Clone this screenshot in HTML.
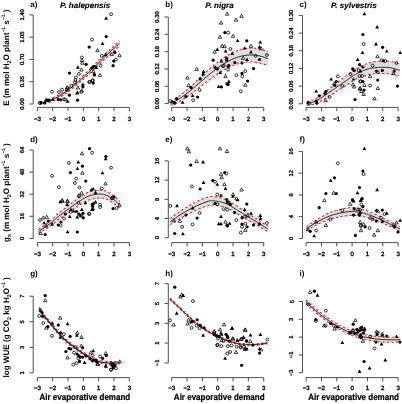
<!DOCTYPE html>
<html><head><meta charset="utf-8"><style>
html,body{margin:0;padding:0;background:#fff;width:402px;height:404px;overflow:hidden}
svg text{font-family:"Liberation Sans",sans-serif;text-rendering:geometricPrecision}
</style></head><body>
<svg width="402" height="404" viewBox="0 0 402 404" style="position:absolute;left:0;top:0;will-change:transform"><polygon points="39.50,101.71 40.86,101.55 42.22,101.33 43.57,101.06 44.93,100.73 46.29,100.36 47.65,99.93 49.00,99.46 50.36,98.94 51.72,98.38 53.08,97.77 54.43,97.12 55.79,96.43 57.15,95.69 58.51,94.91 59.86,94.10 61.22,93.25 62.58,92.37 63.94,91.45 65.29,90.49 66.65,89.50 68.01,88.48 69.37,87.43 70.73,86.36 72.08,85.26 73.44,84.14 74.80,82.99 76.16,81.82 77.51,80.63 78.87,79.42 80.23,78.19 81.59,76.95 82.94,75.69 84.30,74.42 85.66,73.15 87.02,71.86 88.37,70.57 89.73,69.27 91.09,67.96 92.45,66.64 93.81,65.32 95.16,64.00 96.52,62.67 97.88,61.35 99.24,60.02 100.59,58.70 101.95,57.38 103.31,56.05 104.67,54.72 106.02,53.40 107.38,52.08 108.74,50.78 110.10,49.48 111.45,48.21 112.81,46.95 114.17,45.71 115.53,44.48 116.88,43.27 118.24,42.08 119.60,40.90 119.60,46.10 118.24,47.22 116.88,48.35 115.53,49.51 114.17,50.68 112.81,51.87 111.45,53.07 110.10,54.29 108.74,55.51 107.38,56.74 106.02,57.99 104.67,59.24 103.31,60.50 101.95,61.77 100.59,63.06 99.24,64.35 97.88,65.65 96.52,66.94 95.16,68.24 93.81,69.53 92.45,70.82 91.09,72.11 89.73,73.39 88.37,74.66 87.02,75.93 85.66,77.18 84.30,78.42 82.94,79.65 81.59,80.85 80.23,82.04 78.87,83.21 77.51,84.37 76.16,85.51 74.80,86.62 73.44,87.72 72.08,88.79 70.73,89.84 69.37,90.87 68.01,91.86 66.65,92.83 65.29,93.77 63.94,94.68 62.58,95.56 61.22,96.42 59.86,97.23 58.51,98.02 57.15,98.76 55.79,99.47 54.43,100.13 53.08,100.76 51.72,101.35 50.36,101.89 49.00,102.39 47.65,102.85 46.29,103.25 44.93,103.61 43.57,103.91 42.22,104.17 40.86,104.37 39.50,104.51" fill="#dedede" stroke="none"/><polyline points="39.50,101.71 40.86,101.55 42.22,101.33 43.57,101.06 44.93,100.73 46.29,100.36 47.65,99.93 49.00,99.46 50.36,98.94 51.72,98.38 53.08,97.77 54.43,97.12 55.79,96.43 57.15,95.69 58.51,94.91 59.86,94.10 61.22,93.25 62.58,92.37 63.94,91.45 65.29,90.49 66.65,89.50 68.01,88.48 69.37,87.43 70.73,86.36 72.08,85.26 73.44,84.14 74.80,82.99 76.16,81.82 77.51,80.63 78.87,79.42 80.23,78.19 81.59,76.95 82.94,75.69 84.30,74.42 85.66,73.15 87.02,71.86 88.37,70.57 89.73,69.27 91.09,67.96 92.45,66.64 93.81,65.32 95.16,64.00 96.52,62.67 97.88,61.35 99.24,60.02 100.59,58.70 101.95,57.38 103.31,56.05 104.67,54.72 106.02,53.40 107.38,52.08 108.74,50.78 110.10,49.48 111.45,48.21 112.81,46.95 114.17,45.71 115.53,44.48 116.88,43.27 118.24,42.08 119.60,40.90" fill="none" stroke="#f01e1e" stroke-width="1.1" stroke-dasharray="2.3,2.3"/><polyline points="39.50,104.51 40.86,104.37 42.22,104.17 43.57,103.91 44.93,103.61 46.29,103.25 47.65,102.85 49.00,102.39 50.36,101.89 51.72,101.35 53.08,100.76 54.43,100.13 55.79,99.47 57.15,98.76 58.51,98.02 59.86,97.23 61.22,96.42 62.58,95.56 63.94,94.68 65.29,93.77 66.65,92.83 68.01,91.86 69.37,90.87 70.73,89.84 72.08,88.79 73.44,87.72 74.80,86.62 76.16,85.51 77.51,84.37 78.87,83.21 80.23,82.04 81.59,80.85 82.94,79.65 84.30,78.42 85.66,77.18 87.02,75.93 88.37,74.66 89.73,73.39 91.09,72.11 92.45,70.82 93.81,69.53 95.16,68.24 96.52,66.94 97.88,65.65 99.24,64.35 100.59,63.06 101.95,61.77 103.31,60.50 104.67,59.24 106.02,57.99 107.38,56.74 108.74,55.51 110.10,54.29 111.45,53.07 112.81,51.87 114.17,50.68 115.53,49.51 116.88,48.35 118.24,47.22 119.60,46.10" fill="none" stroke="#f01e1e" stroke-width="1.1" stroke-dasharray="2.3,2.3"/><polyline points="39.50,103.11 40.86,102.96 42.22,102.75 43.57,102.48 44.93,102.17 46.29,101.80 47.65,101.39 49.00,100.93 50.36,100.42 51.72,99.87 53.08,99.27 54.43,98.63 55.79,97.95 57.15,97.22 58.51,96.46 59.86,95.67 61.22,94.83 62.58,93.97 63.94,93.06 65.29,92.13 66.65,91.17 68.01,90.17 69.37,89.15 70.73,88.10 72.08,87.03 73.44,85.93 74.80,84.81 76.16,83.66 77.51,82.50 78.87,81.32 80.23,80.12 81.59,78.90 82.94,77.67 84.30,76.42 85.66,75.16 87.02,73.89 88.37,72.62 89.73,71.33 91.09,70.03 92.45,68.73 93.81,67.43 95.16,66.12 96.52,64.81 97.88,63.50 99.24,62.19 100.59,60.88 101.95,59.57 103.31,58.27 104.67,56.98 106.02,55.69 107.38,54.41 108.74,53.14 110.10,51.89 111.45,50.64 112.81,49.41 114.17,48.19 115.53,46.99 116.88,45.81 118.24,44.65 119.60,43.50" fill="none" stroke="#1c1c1c" stroke-width="0.95"/><circle cx="111.1" cy="14.2" r="1.45" fill="none" stroke="#000" stroke-width="0.8"/><polygon points="106.1,16.3 108.0,19.8 104.2,19.8" fill="#000"/><circle cx="106.2" cy="36.6" r="1.6" fill="#000"/><circle cx="92.0" cy="39.6" r="1.45" fill="none" stroke="#000" stroke-width="0.8"/><polygon points="102.5,41.4 104.4,44.9 100.6,44.9" fill="#000"/><circle cx="89.2" cy="47.1" r="1.6" fill="#000"/><polygon points="97.5,48.6 99.2,51.7 95.8,51.7" fill="none" stroke="#000" stroke-width="0.75"/><circle cx="101.7" cy="55.8" r="1.45" fill="none" stroke="#000" stroke-width="0.8"/><polygon points="105.6,52.7 107.5,56.1 103.7,56.1" fill="#000"/><circle cx="114.8" cy="52.4" r="1.6" fill="#000"/><polygon points="111.8,52.5 113.5,55.6 110.0,55.6" fill="none" stroke="#000" stroke-width="0.75"/><polygon points="119.5,53.7 121.2,56.8 117.8,56.8" fill="none" stroke="#000" stroke-width="0.75"/><circle cx="115.9" cy="59.6" r="1.45" fill="none" stroke="#000" stroke-width="0.8"/><circle cx="113.7" cy="61.1" r="1.6" fill="#000"/><circle cx="113.1" cy="65.7" r="1.6" fill="#000"/><circle cx="100.7" cy="65.7" r="1.45" fill="none" stroke="#000" stroke-width="0.8"/><polygon points="99.9,73.3 101.7,76.4 98.2,76.4" fill="none" stroke="#000" stroke-width="0.75"/><circle cx="93.7" cy="66.5" r="1.6" fill="#000"/><polygon points="96.2,65.6 98.1,69.0 94.3,69.0" fill="#000"/><circle cx="94.4" cy="74.7" r="1.6" fill="#000"/><circle cx="92.5" cy="80.9" r="1.45" fill="none" stroke="#000" stroke-width="0.8"/><circle cx="89.2" cy="82.1" r="1.45" fill="none" stroke="#000" stroke-width="0.8"/><circle cx="93.2" cy="83.1" r="1.6" fill="#000"/><circle cx="81.9" cy="57.5" r="1.45" fill="none" stroke="#000" stroke-width="0.8"/><polygon points="82.0,58.4 83.8,61.5 80.2,61.5" fill="none" stroke="#000" stroke-width="0.75"/><polygon points="82.2,61.1 84.0,64.2 80.5,64.2" fill="none" stroke="#000" stroke-width="0.75"/><circle cx="86.1" cy="64.4" r="1.6" fill="#000"/><polygon points="77.9,65.3 79.8,68.8 76.0,68.8" fill="#000"/><polygon points="81.4,68.0 83.2,71.1 79.7,71.1" fill="none" stroke="#000" stroke-width="0.75"/><circle cx="78.9" cy="73.9" r="1.45" fill="none" stroke="#000" stroke-width="0.8"/><circle cx="69.5" cy="73.1" r="1.6" fill="#000"/><circle cx="91.8" cy="67.9" r="1.6" fill="#000"/><circle cx="94.8" cy="66.9" r="1.6" fill="#000"/><polygon points="93.3,69.5 95.0,72.6 91.5,72.6" fill="none" stroke="#000" stroke-width="0.75"/><circle cx="94.3" cy="74.9" r="1.6" fill="#000"/><circle cx="89.9" cy="81.8" r="1.45" fill="none" stroke="#000" stroke-width="0.8"/><circle cx="92.8" cy="80.3" r="1.45" fill="none" stroke="#000" stroke-width="0.8"/><circle cx="82.9" cy="84.8" r="1.6" fill="#000"/><circle cx="82.9" cy="86.8" r="1.6" fill="#000"/><circle cx="75.9" cy="77.4" r="1.45" fill="none" stroke="#000" stroke-width="0.8"/><circle cx="75.4" cy="79.9" r="1.45" fill="none" stroke="#000" stroke-width="0.8"/><circle cx="74.9" cy="82.3" r="1.45" fill="none" stroke="#000" stroke-width="0.8"/><polygon points="67.5,85.9 69.2,89.0 65.8,89.0" fill="none" stroke="#000" stroke-width="0.75"/><polygon points="77.9,85.9 79.7,89.0 76.2,89.0" fill="none" stroke="#000" stroke-width="0.75"/><circle cx="39.6" cy="103.0" r="1.45" fill="none" stroke="#000" stroke-width="0.8"/><circle cx="41.0" cy="102.6" r="1.6" fill="#000"/><circle cx="44.6" cy="103.0" r="1.6" fill="#000"/><circle cx="47.1" cy="100.2" r="1.6" fill="#000"/><circle cx="48.9" cy="100.2" r="1.6" fill="#000"/><polygon points="52.7,97.4 54.6,100.8 50.8,100.8" fill="#000"/><circle cx="52.0" cy="91.7" r="1.45" fill="none" stroke="#000" stroke-width="0.8"/><circle cx="58.3" cy="99.5" r="1.6" fill="#000"/><circle cx="60.7" cy="99.8" r="1.6" fill="#000"/><circle cx="63.9" cy="99.3" r="1.45" fill="none" stroke="#000" stroke-width="0.8"/><polygon points="67.6,99.3 69.5,102.8 65.7,102.8" fill="#000"/><circle cx="77.5" cy="100.2" r="1.6" fill="#000"/><circle cx="58.9" cy="92.1" r="1.45" fill="none" stroke="#000" stroke-width="0.8"/><circle cx="62.0" cy="89.6" r="1.45" fill="none" stroke="#000" stroke-width="0.8"/><polygon points="67.0,88.1 68.9,91.5 65.1,91.5" fill="#000"/><polygon points="67.0,85.8 68.8,88.9 65.2,88.9" fill="none" stroke="#000" stroke-width="0.75"/><circle cx="69.4" cy="95.2" r="1.6" fill="#000"/><circle cx="71.3" cy="85.9" r="1.45" fill="none" stroke="#000" stroke-width="0.8"/><polygon points="76.9,91.2 78.8,94.6 75.0,94.6" fill="#000"/><circle cx="81.3" cy="92.1" r="1.45" fill="none" stroke="#000" stroke-width="0.8"/><polygon points="46.4,98.1 48.1,101.2 44.6,101.2" fill="none" stroke="#000" stroke-width="0.75"/><circle cx="65.1" cy="99.5" r="1.45" fill="none" stroke="#000" stroke-width="0.8"/><polygon points="81.8,88.7 83.5,91.8 80.0,91.8" fill="none" stroke="#000" stroke-width="0.75"/><polygon points="77.5,90.5 79.4,93.9 75.6,93.9" fill="#000"/><line x1="33.2" y1="104.0" x2="33.2" y2="14.900000000000006" stroke="#3a3a3a" stroke-width="0.9"/><line x1="29.400000000000002" y1="104.00" x2="33.2" y2="104.00" stroke="#3a3a3a" stroke-width="0.9"/><text x="24.20" y="104.00" transform="rotate(-90 24.20 104.00)" text-anchor="middle" font-size="5.8" fill="#111" stroke="#111" stroke-width="0.35">0.00</text><line x1="29.400000000000002" y1="81.72" x2="33.2" y2="81.72" stroke="#3a3a3a" stroke-width="0.9"/><text x="24.20" y="81.72" transform="rotate(-90 24.20 81.72)" text-anchor="middle" font-size="5.8" fill="#111" stroke="#111" stroke-width="0.35">0.35</text><line x1="29.400000000000002" y1="59.45" x2="33.2" y2="59.45" stroke="#3a3a3a" stroke-width="0.9"/><text x="24.20" y="59.45" transform="rotate(-90 24.20 59.45)" text-anchor="middle" font-size="5.8" fill="#111" stroke="#111" stroke-width="0.35">0.70</text><line x1="29.400000000000002" y1="37.17" x2="33.2" y2="37.17" stroke="#3a3a3a" stroke-width="0.9"/><text x="24.20" y="37.17" transform="rotate(-90 24.20 37.17)" text-anchor="middle" font-size="5.8" fill="#111" stroke="#111" stroke-width="0.35">1.05</text><line x1="29.400000000000002" y1="14.90" x2="33.2" y2="14.90" stroke="#3a3a3a" stroke-width="0.9"/><text x="24.20" y="14.90" transform="rotate(-90 24.20 14.90)" text-anchor="middle" font-size="5.8" fill="#111" stroke="#111" stroke-width="0.35">1.40</text><line x1="37.35999999999999" y1="107.4" x2="129.34" y2="107.4" stroke="#3a3a3a" stroke-width="0.9"/><line x1="37.36" y1="107.4" x2="37.36" y2="111.2" stroke="#3a3a3a" stroke-width="0.9"/><text x="37.36" y="121.00" text-anchor="middle" font-size="6.1" fill="#111" stroke="#111" stroke-width="0.4">−3</text><line x1="52.69" y1="107.4" x2="52.69" y2="111.2" stroke="#3a3a3a" stroke-width="0.9"/><text x="52.69" y="121.00" text-anchor="middle" font-size="6.1" fill="#111" stroke="#111" stroke-width="0.4">−2</text><line x1="68.02" y1="107.4" x2="68.02" y2="111.2" stroke="#3a3a3a" stroke-width="0.9"/><text x="68.02" y="121.00" text-anchor="middle" font-size="6.1" fill="#111" stroke="#111" stroke-width="0.4">−1</text><line x1="83.35" y1="107.4" x2="83.35" y2="111.2" stroke="#3a3a3a" stroke-width="0.9"/><text x="83.35" y="121.00" text-anchor="middle" font-size="6.1" fill="#111" stroke="#111" stroke-width="0.4">0</text><line x1="98.68" y1="107.4" x2="98.68" y2="111.2" stroke="#3a3a3a" stroke-width="0.9"/><text x="98.68" y="121.00" text-anchor="middle" font-size="6.1" fill="#111" stroke="#111" stroke-width="0.4">1</text><line x1="114.01" y1="107.4" x2="114.01" y2="111.2" stroke="#3a3a3a" stroke-width="0.9"/><text x="114.01" y="121.00" text-anchor="middle" font-size="6.1" fill="#111" stroke="#111" stroke-width="0.4">2</text><line x1="129.34" y1="107.4" x2="129.34" y2="111.2" stroke="#3a3a3a" stroke-width="0.9"/><text x="129.34" y="121.00" text-anchor="middle" font-size="6.1" fill="#111" stroke="#111" stroke-width="0.4">3</text><text x="30.20" y="7.20" font-size="8" font-weight="bold" fill="#000">a)</text><text x="85.15" y="7.6" text-anchor="middle" font-size="8" font-weight="bold" font-style="italic" fill="#000" stroke="#000" stroke-width="0.15">P. halepensis</text><polygon points="170.50,101.24 172.15,100.44 173.80,99.55 175.45,98.57 177.10,97.51 178.75,96.37 180.41,95.17 182.06,93.91 183.71,92.59 185.36,91.21 187.01,89.77 188.66,88.31 190.31,86.81 191.96,85.31 193.61,83.78 195.26,82.24 196.91,80.68 198.56,79.12 200.22,77.55 201.87,75.99 203.52,74.42 205.17,72.87 206.82,71.33 208.47,69.81 210.12,68.31 211.77,66.91 213.42,65.54 215.07,64.20 216.72,62.89 218.37,61.63 220.03,60.40 221.68,59.22 223.33,58.08 224.98,57.00 226.63,55.96 228.28,54.98 229.93,54.05 231.58,53.18 233.23,52.37 234.88,51.62 236.53,50.92 238.18,50.29 239.84,49.72 241.49,49.27 243.14,48.89 244.79,48.58 246.44,48.34 248.09,48.17 249.74,48.07 251.39,48.04 253.04,48.07 254.69,48.19 256.34,48.39 257.99,48.66 259.65,49.00 261.30,49.41 262.95,49.89 264.60,50.43 266.25,51.04 267.90,51.71 267.90,65.71 266.25,65.04 264.60,64.43 262.95,63.89 261.30,63.41 259.65,63.00 257.99,62.66 256.34,62.39 254.69,62.19 253.04,62.05 251.39,61.96 249.74,61.95 248.09,62.00 246.44,62.13 244.79,62.32 243.14,62.58 241.49,62.91 239.84,63.30 238.18,63.71 236.53,64.18 234.88,64.71 233.23,65.32 231.58,65.99 229.93,66.72 228.28,67.51 226.63,68.35 224.98,69.25 223.33,70.19 221.68,71.19 220.03,72.24 218.37,73.32 216.72,74.45 215.07,75.62 213.42,76.83 211.77,78.06 210.12,79.32 208.47,80.54 206.82,81.78 205.17,83.03 203.52,84.30 201.87,85.58 200.22,86.87 198.56,88.16 196.91,89.44 195.26,90.72 193.61,91.99 191.96,93.24 190.31,94.46 188.66,95.64 187.01,96.78 185.36,97.88 183.71,98.94 182.06,99.96 180.41,100.93 178.75,101.84 177.10,102.68 175.45,103.45 173.80,104.13 172.15,104.73 170.50,105.24" fill="#dedede" stroke="none"/><polyline points="170.50,101.24 172.15,100.44 173.80,99.55 175.45,98.57 177.10,97.51 178.75,96.37 180.41,95.17 182.06,93.91 183.71,92.59 185.36,91.21 187.01,89.77 188.66,88.31 190.31,86.81 191.96,85.31 193.61,83.78 195.26,82.24 196.91,80.68 198.56,79.12 200.22,77.55 201.87,75.99 203.52,74.42 205.17,72.87 206.82,71.33 208.47,69.81 210.12,68.31 211.77,66.91 213.42,65.54 215.07,64.20 216.72,62.89 218.37,61.63 220.03,60.40 221.68,59.22 223.33,58.08 224.98,57.00 226.63,55.96 228.28,54.98 229.93,54.05 231.58,53.18 233.23,52.37 234.88,51.62 236.53,50.92 238.18,50.29 239.84,49.72 241.49,49.27 243.14,48.89 244.79,48.58 246.44,48.34 248.09,48.17 249.74,48.07 251.39,48.04 253.04,48.07 254.69,48.19 256.34,48.39 257.99,48.66 259.65,49.00 261.30,49.41 262.95,49.89 264.60,50.43 266.25,51.04 267.90,51.71" fill="none" stroke="#f01e1e" stroke-width="1.1" stroke-dasharray="2.3,2.3"/><polyline points="170.50,105.24 172.15,104.73 173.80,104.13 175.45,103.45 177.10,102.68 178.75,101.84 180.41,100.93 182.06,99.96 183.71,98.94 185.36,97.88 187.01,96.78 188.66,95.64 190.31,94.46 191.96,93.24 193.61,91.99 195.26,90.72 196.91,89.44 198.56,88.16 200.22,86.87 201.87,85.58 203.52,84.30 205.17,83.03 206.82,81.78 208.47,80.54 210.12,79.32 211.77,78.06 213.42,76.83 215.07,75.62 216.72,74.45 218.37,73.32 220.03,72.24 221.68,71.19 223.33,70.19 224.98,69.25 226.63,68.35 228.28,67.51 229.93,66.72 231.58,65.99 233.23,65.32 234.88,64.71 236.53,64.18 238.18,63.71 239.84,63.30 241.49,62.91 243.14,62.58 244.79,62.32 246.44,62.13 248.09,62.00 249.74,61.95 251.39,61.96 253.04,62.05 254.69,62.19 256.34,62.39 257.99,62.66 259.65,63.00 261.30,63.41 262.95,63.89 264.60,64.43 266.25,65.04 267.90,65.71" fill="none" stroke="#f01e1e" stroke-width="1.1" stroke-dasharray="2.3,2.3"/><polyline points="170.50,103.24 172.15,102.59 173.80,101.84 175.45,101.01 177.10,100.09 178.75,99.11 180.41,98.05 182.06,96.94 183.71,95.76 185.36,94.54 187.01,93.28 188.66,91.97 190.31,90.63 191.96,89.27 193.61,87.88 195.26,86.48 196.91,85.06 198.56,83.64 200.22,82.21 201.87,80.78 203.52,79.36 205.17,77.95 206.82,76.56 208.47,75.18 210.12,73.82 211.77,72.49 213.42,71.18 215.07,69.91 216.72,68.67 218.37,67.48 220.03,66.32 221.68,65.20 223.33,64.14 224.98,63.12 226.63,62.15 228.28,61.24 229.93,60.38 231.58,59.59 233.23,58.85 234.88,58.17 236.53,57.55 238.18,57.00 239.84,56.51 241.49,56.09 243.14,55.74 244.79,55.45 246.44,55.23 248.09,55.09 249.74,55.01 251.39,55.00 253.04,55.06 254.69,55.19 256.34,55.39 257.99,55.66 259.65,56.00 261.30,56.41 262.95,56.89 264.60,57.43 266.25,58.04 267.90,58.71" fill="none" stroke="#1c1c1c" stroke-width="0.95"/><polygon points="227.1,12.1 228.8,15.2 225.3,15.2" fill="none" stroke="#000" stroke-width="0.75"/><polygon points="241.6,14.3 243.3,17.4 239.8,17.4" fill="none" stroke="#000" stroke-width="0.75"/><polygon points="236.1,18.0 237.8,21.1 234.3,21.1" fill="none" stroke="#000" stroke-width="0.75"/><polygon points="221.1,21.0 222.8,24.1 219.3,24.1" fill="none" stroke="#000" stroke-width="0.75"/><circle cx="224.9" cy="32.6" r="1.6" fill="#000"/><circle cx="228.1" cy="32.6" r="1.45" fill="none" stroke="#000" stroke-width="0.8"/><polygon points="233.1,34.2 234.8,37.3 231.3,37.3" fill="none" stroke="#000" stroke-width="0.75"/><polygon points="219.9,35.2 221.7,38.3 218.2,38.3" fill="none" stroke="#000" stroke-width="0.75"/><polygon points="237.6,38.7 239.5,42.1 235.7,42.1" fill="#000"/><circle cx="246.8" cy="40.8" r="1.6" fill="#000"/><polygon points="260.2,40.2 262.1,43.6 258.3,43.6" fill="#000"/><polygon points="222.2,44.2 223.9,47.3 220.4,47.3" fill="none" stroke="#000" stroke-width="0.75"/><polygon points="224.4,44.6 226.2,47.7 222.7,47.7" fill="none" stroke="#000" stroke-width="0.75"/><polygon points="217.3,47.4 219.2,50.9 215.4,50.9" fill="#000"/><polygon points="214.7,50.1 216.4,53.2 212.9,53.2" fill="none" stroke="#000" stroke-width="0.75"/><circle cx="230.4" cy="49.0" r="1.45" fill="none" stroke="#000" stroke-width="0.8"/><polygon points="225.6,49.2 227.5,52.6 223.7,52.6" fill="#000"/><polygon points="232.2,51.4 234.1,54.9 230.3,54.9" fill="#000"/><polygon points="244.6,46.2 246.5,49.6 242.7,49.6" fill="#000"/><polygon points="251.0,44.2 252.8,47.3 249.2,47.3" fill="none" stroke="#000" stroke-width="0.75"/><polygon points="259.5,45.0 261.4,48.5 257.6,48.5" fill="#000"/><polygon points="261.0,46.7 262.8,49.8 259.2,49.8" fill="none" stroke="#000" stroke-width="0.75"/><polygon points="251.0,49.9 252.9,53.4 249.1,53.4" fill="#000"/><circle cx="213.2" cy="60.2" r="1.6" fill="#000"/><polygon points="221.4,58.9 223.3,62.4 219.5,62.4" fill="#000"/><circle cx="226.7" cy="58.0" r="1.6" fill="#000"/><circle cx="226.7" cy="60.2" r="1.6" fill="#000"/><polygon points="243.1,56.3 244.8,59.4 241.3,59.4" fill="none" stroke="#000" stroke-width="0.75"/><polygon points="247.0,57.5 248.9,61.0 245.1,61.0" fill="#000"/><circle cx="259.5" cy="59.5" r="1.6" fill="#000"/><circle cx="255.5" cy="55.8" r="1.45" fill="none" stroke="#000" stroke-width="0.8"/><circle cx="267.0" cy="55.0" r="1.45" fill="none" stroke="#000" stroke-width="0.8"/><circle cx="234.9" cy="62.5" r="1.6" fill="#000"/><circle cx="242.0" cy="63.0" r="1.6" fill="#000"/><circle cx="223.7" cy="65.5" r="1.45" fill="none" stroke="#000" stroke-width="0.8"/><circle cx="228.9" cy="65.5" r="1.6" fill="#000"/><circle cx="222.9" cy="66.2" r="1.45" fill="none" stroke="#000" stroke-width="0.8"/><circle cx="215.0" cy="67.4" r="1.6" fill="#000"/><circle cx="217.3" cy="68.9" r="1.6" fill="#000"/><polygon points="220.2,70.5 222.1,73.9 218.3,73.9" fill="#000"/><polygon points="196.7,67.3 198.4,70.4 194.9,70.4" fill="none" stroke="#000" stroke-width="0.75"/><polygon points="203.5,69.5 205.4,72.9 201.6,72.9" fill="#000"/><circle cx="203.1" cy="74.6" r="1.6" fill="#000"/><polygon points="187.4,76.0 189.2,79.1 185.7,79.1" fill="none" stroke="#000" stroke-width="0.75"/><circle cx="200.1" cy="78.9" r="1.6" fill="#000"/><polygon points="188.6,83.4 190.3,86.5 186.8,86.5" fill="none" stroke="#000" stroke-width="0.75"/><circle cx="191.1" cy="87.6" r="1.6" fill="#000"/><circle cx="199.6" cy="90.1" r="1.45" fill="none" stroke="#000" stroke-width="0.8"/><polygon points="218.7,84.7 220.6,88.1 216.8,88.1" fill="#000"/><circle cx="221.4" cy="86.8" r="1.6" fill="#000"/><polygon points="225.5,74.5 227.2,77.6 223.8,77.6" fill="none" stroke="#000" stroke-width="0.75"/><circle cx="227.0" cy="83.8" r="1.6" fill="#000"/><circle cx="185.9" cy="96.5" r="1.6" fill="#000"/><polygon points="192.6,93.7 194.5,97.1 190.7,97.1" fill="#000"/><circle cx="197.6" cy="97.0" r="1.6" fill="#000"/><circle cx="193.1" cy="100.2" r="1.45" fill="none" stroke="#000" stroke-width="0.8"/><polygon points="182.6,100.4 184.5,103.8 180.7,103.8" fill="#000"/><circle cx="176.7" cy="98.7" r="1.6" fill="#000"/><circle cx="174.7" cy="103.2" r="1.6" fill="#000"/><circle cx="170.2" cy="101.0" r="1.45" fill="none" stroke="#000" stroke-width="0.8"/><circle cx="172.5" cy="102.0" r="1.6" fill="#000"/><circle cx="253.5" cy="68.6" r="1.6" fill="#000"/><circle cx="245.3" cy="71.1" r="1.45" fill="none" stroke="#000" stroke-width="0.8"/><circle cx="242.0" cy="73.4" r="1.6" fill="#000"/><circle cx="236.4" cy="75.2" r="1.45" fill="none" stroke="#000" stroke-width="0.8"/><circle cx="242.3" cy="76.4" r="1.45" fill="none" stroke="#000" stroke-width="0.8"/><polygon points="228.9,79.5 230.8,82.9 227.0,82.9" fill="#000"/><circle cx="228.1" cy="84.6" r="1.6" fill="#000"/><circle cx="247.6" cy="81.1" r="1.6" fill="#000"/><polygon points="245.3,83.1 247.1,86.2 243.6,86.2" fill="none" stroke="#000" stroke-width="0.75"/><circle cx="240.8" cy="91.3" r="1.45" fill="none" stroke="#000" stroke-width="0.8"/><circle cx="228.1" cy="69.6" r="1.45" fill="none" stroke="#000" stroke-width="0.8"/><circle cx="228.1" cy="66.2" r="1.6" fill="#000"/><line x1="168.3" y1="103.6" x2="168.3" y2="16.999999999999986" stroke="#3a3a3a" stroke-width="0.9"/><line x1="164.5" y1="103.60" x2="168.3" y2="103.60" stroke="#3a3a3a" stroke-width="0.9"/><text x="159.30" y="103.60" transform="rotate(-90 159.30 103.60)" text-anchor="middle" font-size="5.8" fill="#111" stroke="#111" stroke-width="0.35">0.00</text><line x1="164.5" y1="86.28" x2="168.3" y2="86.28" stroke="#3a3a3a" stroke-width="0.9"/><text x="159.30" y="86.28" transform="rotate(-90 159.30 86.28)" text-anchor="middle" font-size="5.8" fill="#111" stroke="#111" stroke-width="0.35">0.06</text><line x1="164.5" y1="68.96" x2="168.3" y2="68.96" stroke="#3a3a3a" stroke-width="0.9"/><text x="159.30" y="68.96" transform="rotate(-90 159.30 68.96)" text-anchor="middle" font-size="5.8" fill="#111" stroke="#111" stroke-width="0.35">0.12</text><line x1="164.5" y1="51.64" x2="168.3" y2="51.64" stroke="#3a3a3a" stroke-width="0.9"/><text x="159.30" y="51.64" transform="rotate(-90 159.30 51.64)" text-anchor="middle" font-size="5.8" fill="#111" stroke="#111" stroke-width="0.35">0.18</text><line x1="164.5" y1="34.32" x2="168.3" y2="34.32" stroke="#3a3a3a" stroke-width="0.9"/><text x="159.30" y="34.32" transform="rotate(-90 159.30 34.32)" text-anchor="middle" font-size="5.8" fill="#111" stroke="#111" stroke-width="0.35">0.24</text><line x1="164.5" y1="17.00" x2="168.3" y2="17.00" stroke="#3a3a3a" stroke-width="0.9"/><text x="159.30" y="17.00" transform="rotate(-90 159.30 17.00)" text-anchor="middle" font-size="5.8" fill="#111" stroke="#111" stroke-width="0.35">0.30</text><line x1="171.70999999999998" y1="107.4" x2="263.69" y2="107.4" stroke="#3a3a3a" stroke-width="0.9"/><line x1="171.71" y1="107.4" x2="171.71" y2="111.2" stroke="#3a3a3a" stroke-width="0.9"/><text x="171.71" y="121.00" text-anchor="middle" font-size="6.1" fill="#111" stroke="#111" stroke-width="0.4">−3</text><line x1="187.04" y1="107.4" x2="187.04" y2="111.2" stroke="#3a3a3a" stroke-width="0.9"/><text x="187.04" y="121.00" text-anchor="middle" font-size="6.1" fill="#111" stroke="#111" stroke-width="0.4">−2</text><line x1="202.37" y1="107.4" x2="202.37" y2="111.2" stroke="#3a3a3a" stroke-width="0.9"/><text x="202.37" y="121.00" text-anchor="middle" font-size="6.1" fill="#111" stroke="#111" stroke-width="0.4">−1</text><line x1="217.70" y1="107.4" x2="217.70" y2="111.2" stroke="#3a3a3a" stroke-width="0.9"/><text x="217.70" y="121.00" text-anchor="middle" font-size="6.1" fill="#111" stroke="#111" stroke-width="0.4">0</text><line x1="233.03" y1="107.4" x2="233.03" y2="111.2" stroke="#3a3a3a" stroke-width="0.9"/><text x="233.03" y="121.00" text-anchor="middle" font-size="6.1" fill="#111" stroke="#111" stroke-width="0.4">1</text><line x1="248.36" y1="107.4" x2="248.36" y2="111.2" stroke="#3a3a3a" stroke-width="0.9"/><text x="248.36" y="121.00" text-anchor="middle" font-size="6.1" fill="#111" stroke="#111" stroke-width="0.4">2</text><line x1="263.69" y1="107.4" x2="263.69" y2="111.2" stroke="#3a3a3a" stroke-width="0.9"/><text x="263.69" y="121.00" text-anchor="middle" font-size="6.1" fill="#111" stroke="#111" stroke-width="0.4">3</text><text x="165.30" y="7.20" font-size="8" font-weight="bold" fill="#000">b)</text><text x="219.50" y="7.6" text-anchor="middle" font-size="8" font-weight="bold" font-style="italic" fill="#000" stroke="#000" stroke-width="0.15">P. nigra</text><polygon points="307.00,101.60 307.73,101.36 308.44,101.17 309.14,100.99 309.82,100.83 310.50,100.67 311.19,100.49 311.90,100.29 312.64,100.06 313.41,99.77 314.22,99.43 315.08,99.01 316.00,98.50 316.99,97.89 318.03,97.20 319.13,96.44 320.27,95.62 321.44,94.74 322.64,93.83 323.85,92.90 325.08,91.94 326.30,90.98 327.52,90.03 328.72,89.10 329.90,88.20 331.06,87.34 332.23,86.46 333.39,85.58 334.56,84.69 335.73,83.80 336.89,82.91 338.06,82.01 339.23,81.12 340.40,80.23 341.57,79.34 342.73,78.47 343.90,77.60 345.07,76.75 346.23,75.89 347.40,75.01 348.57,74.14 349.73,73.26 350.90,72.40 352.07,71.55 353.23,70.73 354.40,69.94 355.57,69.18 356.73,68.46 357.90,67.80 359.06,67.16 360.21,66.55 361.35,65.97 362.49,65.43 363.63,64.91 364.77,64.42 365.92,63.96 367.09,63.53 368.26,63.13 369.45,62.76 370.66,62.41 371.90,62.10 373.18,61.86 374.50,61.66 375.86,61.49 377.24,61.36 378.63,61.25 380.03,61.17 381.42,61.11 382.80,61.08 384.14,61.08 385.45,61.10 386.70,61.14 387.90,61.20 389.04,61.30 390.12,61.43 391.16,61.61 392.17,61.81 393.15,62.04 394.11,62.28 395.05,62.54 395.99,62.80 396.92,63.07 397.86,63.33 398.82,63.57 399.80,63.80 399.80,76.80 398.82,76.54 397.86,76.26 396.92,75.97 395.99,75.68 395.05,75.38 394.11,75.09 393.15,74.81 392.17,74.55 391.16,74.32 390.12,74.11 389.04,73.93 387.90,73.80 386.70,73.69 385.45,73.61 384.14,73.54 382.80,73.49 381.42,73.47 380.03,73.47 378.63,73.50 377.24,73.56 375.86,73.64 374.50,73.76 373.18,73.91 371.90,74.10 370.66,74.27 369.45,74.48 368.26,74.71 367.09,74.98 365.92,75.28 364.77,75.61 363.63,75.96 362.49,76.35 361.35,76.77 360.21,77.22 359.06,77.69 357.90,78.20 356.73,78.76 355.57,79.38 354.40,80.04 353.23,80.73 352.07,81.45 350.90,82.20 349.73,82.96 348.57,83.74 347.40,84.51 346.23,85.29 345.07,86.05 343.90,86.80 342.73,87.52 341.57,88.24 340.40,88.98 339.23,89.72 338.06,90.46 336.89,91.21 335.73,91.95 334.56,92.69 333.39,93.43 332.23,94.16 331.06,94.89 329.90,95.60 328.72,96.30 327.52,97.02 326.30,97.76 325.08,98.51 323.85,99.25 322.64,99.98 321.44,100.68 320.27,101.35 319.13,101.98 318.03,102.55 316.99,103.06 316.00,103.50 315.08,103.86 314.22,104.15 313.41,104.37 312.64,104.53 311.90,104.66 311.19,104.74 310.50,104.81 309.82,104.87 309.14,104.92 308.44,104.99 307.73,105.08 307.00,105.20" fill="#dedede" stroke="none"/><polyline points="307.00,101.60 307.73,101.36 308.44,101.17 309.14,100.99 309.82,100.83 310.50,100.67 311.19,100.49 311.90,100.29 312.64,100.06 313.41,99.77 314.22,99.43 315.08,99.01 316.00,98.50 316.99,97.89 318.03,97.20 319.13,96.44 320.27,95.62 321.44,94.74 322.64,93.83 323.85,92.90 325.08,91.94 326.30,90.98 327.52,90.03 328.72,89.10 329.90,88.20 331.06,87.34 332.23,86.46 333.39,85.58 334.56,84.69 335.73,83.80 336.89,82.91 338.06,82.01 339.23,81.12 340.40,80.23 341.57,79.34 342.73,78.47 343.90,77.60 345.07,76.75 346.23,75.89 347.40,75.01 348.57,74.14 349.73,73.26 350.90,72.40 352.07,71.55 353.23,70.73 354.40,69.94 355.57,69.18 356.73,68.46 357.90,67.80 359.06,67.16 360.21,66.55 361.35,65.97 362.49,65.43 363.63,64.91 364.77,64.42 365.92,63.96 367.09,63.53 368.26,63.13 369.45,62.76 370.66,62.41 371.90,62.10 373.18,61.86 374.50,61.66 375.86,61.49 377.24,61.36 378.63,61.25 380.03,61.17 381.42,61.11 382.80,61.08 384.14,61.08 385.45,61.10 386.70,61.14 387.90,61.20 389.04,61.30 390.12,61.43 391.16,61.61 392.17,61.81 393.15,62.04 394.11,62.28 395.05,62.54 395.99,62.80 396.92,63.07 397.86,63.33 398.82,63.57 399.80,63.80" fill="none" stroke="#f01e1e" stroke-width="1.1" stroke-dasharray="2.3,2.3"/><polyline points="307.00,105.20 307.73,105.08 308.44,104.99 309.14,104.92 309.82,104.87 310.50,104.81 311.19,104.74 311.90,104.66 312.64,104.53 313.41,104.37 314.22,104.15 315.08,103.86 316.00,103.50 316.99,103.06 318.03,102.55 319.13,101.98 320.27,101.35 321.44,100.68 322.64,99.98 323.85,99.25 325.08,98.51 326.30,97.76 327.52,97.02 328.72,96.30 329.90,95.60 331.06,94.89 332.23,94.16 333.39,93.43 334.56,92.69 335.73,91.95 336.89,91.21 338.06,90.46 339.23,89.72 340.40,88.98 341.57,88.24 342.73,87.52 343.90,86.80 345.07,86.05 346.23,85.29 347.40,84.51 348.57,83.74 349.73,82.96 350.90,82.20 352.07,81.45 353.23,80.73 354.40,80.04 355.57,79.38 356.73,78.76 357.90,78.20 359.06,77.69 360.21,77.22 361.35,76.77 362.49,76.35 363.63,75.96 364.77,75.61 365.92,75.28 367.09,74.98 368.26,74.71 369.45,74.48 370.66,74.27 371.90,74.10 373.18,73.91 374.50,73.76 375.86,73.64 377.24,73.56 378.63,73.50 380.03,73.47 381.42,73.47 382.80,73.49 384.14,73.54 385.45,73.61 386.70,73.69 387.90,73.80 389.04,73.93 390.12,74.11 391.16,74.32 392.17,74.55 393.15,74.81 394.11,75.09 395.05,75.38 395.99,75.68 396.92,75.97 397.86,76.26 398.82,76.54 399.80,76.80" fill="none" stroke="#f01e1e" stroke-width="1.1" stroke-dasharray="2.3,2.3"/><polyline points="307.00,103.40 307.73,103.22 308.44,103.08 309.14,102.96 309.82,102.85 310.50,102.74 311.19,102.62 311.90,102.47 312.64,102.30 313.41,102.07 314.22,101.79 315.08,101.43 316.00,101.00 316.99,100.48 318.03,99.88 319.13,99.21 320.27,98.49 321.44,97.71 322.64,96.91 323.85,96.07 325.08,95.23 326.30,94.37 327.52,93.53 328.72,92.70 329.90,91.90 331.06,91.11 332.23,90.31 333.39,89.51 334.56,88.69 335.73,87.88 336.89,87.06 338.06,86.24 339.23,85.42 340.40,84.60 341.57,83.79 342.73,82.99 343.90,82.20 345.07,81.40 346.23,80.59 347.40,79.76 348.57,78.94 349.73,78.11 350.90,77.30 352.07,76.50 353.23,75.73 354.40,74.99 355.57,74.28 356.73,73.61 357.90,73.00 359.06,72.43 360.21,71.88 361.35,71.37 362.49,70.89 363.63,70.44 364.77,70.01 365.92,69.62 367.09,69.26 368.26,68.92 369.45,68.62 370.66,68.34 371.90,68.10 373.18,67.89 374.50,67.71 375.86,67.57 377.24,67.46 378.63,67.37 380.03,67.32 381.42,67.29 382.80,67.29 384.14,67.31 385.45,67.35 386.70,67.42 387.90,67.50 389.04,67.61 390.12,67.77 391.16,67.96 392.17,68.18 393.15,68.43 394.11,68.69 395.05,68.96 395.99,69.24 396.92,69.52 397.86,69.79 398.82,70.06 399.80,70.30" fill="none" stroke="#1c1c1c" stroke-width="0.95"/><polygon points="364.4,11.9 366.3,15.3 362.5,15.3" fill="#000"/><polygon points="377.1,25.0 379.0,28.5 375.2,28.5" fill="#000"/><circle cx="362.9" cy="34.6" r="1.6" fill="#000"/><circle cx="363.6" cy="44.1" r="1.45" fill="none" stroke="#000" stroke-width="0.8"/><polygon points="376.0,42.0 377.9,45.5 374.1,45.5" fill="#000"/><circle cx="382.6" cy="47.3" r="1.6" fill="#000"/><polygon points="386.8,49.2 388.7,52.6 384.9,52.6" fill="#000"/><polygon points="400.2,50.7 402.1,54.1 398.3,54.1" fill="#000"/><polygon points="362.6,50.7 364.5,54.1 360.7,54.1" fill="#000"/><polygon points="377.5,54.6 379.2,57.7 375.8,57.7" fill="none" stroke="#000" stroke-width="0.75"/><polygon points="357.7,57.4 359.6,60.9 355.8,60.9" fill="#000"/><circle cx="381.6" cy="60.2" r="1.45" fill="none" stroke="#000" stroke-width="0.8"/><circle cx="385.3" cy="61.0" r="1.45" fill="none" stroke="#000" stroke-width="0.8"/><circle cx="383.5" cy="60.8" r="1.6" fill="#000"/><circle cx="396.5" cy="63.0" r="1.45" fill="none" stroke="#000" stroke-width="0.8"/><circle cx="359.6" cy="64.7" r="1.6" fill="#000"/><circle cx="362.9" cy="67.0" r="1.6" fill="#000"/><circle cx="372.6" cy="65.5" r="1.45" fill="none" stroke="#000" stroke-width="0.8"/><circle cx="352.7" cy="68.9" r="1.6" fill="#000"/><circle cx="354.2" cy="70.4" r="1.6" fill="#000"/><circle cx="358.7" cy="70.4" r="1.45" fill="none" stroke="#000" stroke-width="0.8"/><polygon points="360.5,69.0 362.4,72.4 358.6,72.4" fill="#000"/><circle cx="359.5" cy="76.0" r="1.45" fill="none" stroke="#000" stroke-width="0.8"/><circle cx="360.2" cy="81.6" r="1.45" fill="none" stroke="#000" stroke-width="0.8"/><polygon points="360.2,86.4 361.9,89.5 358.4,89.5" fill="none" stroke="#000" stroke-width="0.75"/><circle cx="350.5" cy="74.1" r="1.45" fill="none" stroke="#000" stroke-width="0.8"/><polygon points="353.5,77.2 355.4,80.6 351.6,80.6" fill="#000"/><polygon points="353.0,82.7 354.8,85.8 351.2,85.8" fill="none" stroke="#000" stroke-width="0.75"/><polygon points="354.2,84.9 355.9,88.0 352.4,88.0" fill="none" stroke="#000" stroke-width="0.75"/><circle cx="355.0" cy="99.5" r="1.6" fill="#000"/><circle cx="337.8" cy="76.4" r="1.45" fill="none" stroke="#000" stroke-width="0.8"/><polygon points="331.1,77.2 333.0,80.6 329.2,80.6" fill="#000"/><circle cx="336.3" cy="81.6" r="1.6" fill="#000"/><polygon points="334.1,81.9 335.9,85.0 332.4,85.0" fill="none" stroke="#000" stroke-width="0.75"/><circle cx="334.8" cy="85.3" r="1.6" fill="#000"/><circle cx="342.3" cy="86.1" r="1.45" fill="none" stroke="#000" stroke-width="0.8"/><polygon points="316.2,89.2 318.1,92.6 314.3,92.6" fill="#000"/><circle cx="325.9" cy="91.3" r="1.6" fill="#000"/><circle cx="325.1" cy="93.5" r="1.6" fill="#000"/><circle cx="319.2" cy="95.8" r="1.6" fill="#000"/><circle cx="329.6" cy="97.0" r="1.45" fill="none" stroke="#000" stroke-width="0.8"/><polygon points="325.6,98.6 327.4,101.7 323.9,101.7" fill="none" stroke="#000" stroke-width="0.75"/><circle cx="316.2" cy="101.0" r="1.6" fill="#000"/><circle cx="316.9" cy="103.2" r="1.6" fill="#000"/><circle cx="308.0" cy="102.9" r="1.6" fill="#000"/><circle cx="309.5" cy="103.5" r="1.45" fill="none" stroke="#000" stroke-width="0.8"/><circle cx="376.3" cy="71.1" r="1.6" fill="#000"/><circle cx="377.8" cy="72.2" r="1.45" fill="none" stroke="#000" stroke-width="0.8"/><circle cx="382.3" cy="70.4" r="1.6" fill="#000"/><circle cx="394.2" cy="71.1" r="1.6" fill="#000"/><polygon points="393.5,71.5 395.2,74.6 391.8,74.6" fill="none" stroke="#000" stroke-width="0.75"/><circle cx="362.1" cy="76.0" r="1.45" fill="none" stroke="#000" stroke-width="0.8"/><polygon points="370.1,74.5 371.9,77.6 368.4,77.6" fill="none" stroke="#000" stroke-width="0.75"/><circle cx="360.7" cy="81.1" r="1.45" fill="none" stroke="#000" stroke-width="0.8"/><circle cx="362.9" cy="81.6" r="1.6" fill="#000"/><circle cx="377.8" cy="80.1" r="1.6" fill="#000"/><circle cx="397.5" cy="86.1" r="1.6" fill="#000"/><polygon points="364.4,83.4 366.1,86.5 362.6,86.5" fill="none" stroke="#000" stroke-width="0.75"/><circle cx="370.1" cy="85.6" r="1.45" fill="none" stroke="#000" stroke-width="0.8"/><polygon points="377.8,86.4 379.6,89.5 376.1,89.5" fill="none" stroke="#000" stroke-width="0.75"/><polygon points="359.9,87.1 361.6,90.2 358.1,90.2" fill="none" stroke="#000" stroke-width="0.75"/><polygon points="361.4,89.4 363.1,92.5 359.6,92.5" fill="none" stroke="#000" stroke-width="0.75"/><circle cx="364.1" cy="90.1" r="1.6" fill="#000"/><polygon points="363.6,92.4 365.4,95.5 361.9,95.5" fill="none" stroke="#000" stroke-width="0.75"/><polygon points="374.5,96.8 376.2,99.9 372.8,99.9" fill="none" stroke="#000" stroke-width="0.75"/><line x1="302.5" y1="103.8" x2="302.5" y2="15.399999999999991" stroke="#3a3a3a" stroke-width="0.9"/><line x1="298.7" y1="103.80" x2="302.5" y2="103.80" stroke="#3a3a3a" stroke-width="0.9"/><text x="293.50" y="103.80" transform="rotate(-90 293.50 103.80)" text-anchor="middle" font-size="5.8" fill="#111" stroke="#111" stroke-width="0.35">0.00</text><line x1="298.7" y1="86.12" x2="302.5" y2="86.12" stroke="#3a3a3a" stroke-width="0.9"/><text x="293.50" y="86.12" transform="rotate(-90 293.50 86.12)" text-anchor="middle" font-size="5.8" fill="#111" stroke="#111" stroke-width="0.35">0.06</text><line x1="298.7" y1="68.44" x2="302.5" y2="68.44" stroke="#3a3a3a" stroke-width="0.9"/><text x="293.50" y="68.44" transform="rotate(-90 293.50 68.44)" text-anchor="middle" font-size="5.8" fill="#111" stroke="#111" stroke-width="0.35">0.12</text><line x1="298.7" y1="50.76" x2="302.5" y2="50.76" stroke="#3a3a3a" stroke-width="0.9"/><text x="293.50" y="50.76" transform="rotate(-90 293.50 50.76)" text-anchor="middle" font-size="5.8" fill="#111" stroke="#111" stroke-width="0.35">0.18</text><line x1="298.7" y1="33.08" x2="302.5" y2="33.08" stroke="#3a3a3a" stroke-width="0.9"/><text x="293.50" y="33.08" transform="rotate(-90 293.50 33.08)" text-anchor="middle" font-size="5.8" fill="#111" stroke="#111" stroke-width="0.35">0.24</text><line x1="298.7" y1="15.40" x2="302.5" y2="15.40" stroke="#3a3a3a" stroke-width="0.9"/><text x="293.50" y="15.40" transform="rotate(-90 293.50 15.40)" text-anchor="middle" font-size="5.8" fill="#111" stroke="#111" stroke-width="0.35">0.30</text><line x1="306.11" y1="107.4" x2="398.09000000000003" y2="107.4" stroke="#3a3a3a" stroke-width="0.9"/><line x1="306.11" y1="107.4" x2="306.11" y2="111.2" stroke="#3a3a3a" stroke-width="0.9"/><text x="306.11" y="121.00" text-anchor="middle" font-size="6.1" fill="#111" stroke="#111" stroke-width="0.4">−3</text><line x1="321.44" y1="107.4" x2="321.44" y2="111.2" stroke="#3a3a3a" stroke-width="0.9"/><text x="321.44" y="121.00" text-anchor="middle" font-size="6.1" fill="#111" stroke="#111" stroke-width="0.4">−2</text><line x1="336.77" y1="107.4" x2="336.77" y2="111.2" stroke="#3a3a3a" stroke-width="0.9"/><text x="336.77" y="121.00" text-anchor="middle" font-size="6.1" fill="#111" stroke="#111" stroke-width="0.4">−1</text><line x1="352.10" y1="107.4" x2="352.10" y2="111.2" stroke="#3a3a3a" stroke-width="0.9"/><text x="352.10" y="121.00" text-anchor="middle" font-size="6.1" fill="#111" stroke="#111" stroke-width="0.4">0</text><line x1="367.43" y1="107.4" x2="367.43" y2="111.2" stroke="#3a3a3a" stroke-width="0.9"/><text x="367.43" y="121.00" text-anchor="middle" font-size="6.1" fill="#111" stroke="#111" stroke-width="0.4">1</text><line x1="382.76" y1="107.4" x2="382.76" y2="111.2" stroke="#3a3a3a" stroke-width="0.9"/><text x="382.76" y="121.00" text-anchor="middle" font-size="6.1" fill="#111" stroke="#111" stroke-width="0.4">2</text><line x1="398.09" y1="107.4" x2="398.09" y2="111.2" stroke="#3a3a3a" stroke-width="0.9"/><text x="398.09" y="121.00" text-anchor="middle" font-size="6.1" fill="#111" stroke="#111" stroke-width="0.4">3</text><text x="299.50" y="7.20" font-size="8" font-weight="bold" fill="#000">c)</text><text x="353.90" y="7.6" text-anchor="middle" font-size="8" font-weight="bold" font-style="italic" fill="#000" stroke="#000" stroke-width="0.15">P. sylvestris</text><polygon points="38.50,229.50 39.64,228.65 40.82,227.79 42.02,226.90 43.24,226.01 44.45,225.12 45.66,224.24 46.83,223.37 47.97,222.53 49.06,221.71 50.09,220.93 51.04,220.19 51.90,219.50 52.64,218.88 53.25,218.34 53.76,217.86 54.19,217.42 54.56,217.01 54.92,216.62 55.28,216.22 55.66,215.81 56.10,215.35 56.62,214.84 57.24,214.26 58.00,213.60 58.88,212.88 59.86,212.09 60.92,211.25 62.05,210.36 63.23,209.44 64.46,208.50 65.71,207.53 66.97,206.57 68.24,205.62 69.49,204.68 70.71,203.77 71.90,202.90 73.07,202.04 74.27,201.16 75.47,200.28 76.69,199.39 77.90,198.50 79.11,197.64 80.31,196.80 81.49,195.99 82.64,195.23 83.77,194.52 84.86,193.88 85.90,193.30 86.91,192.82 87.89,192.40 88.84,192.04 89.77,191.72 90.68,191.45 91.56,191.21 92.41,191.01 93.25,190.83 94.07,190.68 94.86,190.54 95.64,190.42 96.40,190.30 97.13,190.20 97.83,190.11 98.50,190.06 99.14,190.02 99.76,190.01 100.37,190.02 100.96,190.05 101.55,190.10 102.13,190.17 102.71,190.26 103.30,190.37 103.90,190.50 104.49,190.66 105.07,190.83 105.64,191.02 106.19,191.23 106.75,191.46 107.30,191.71 107.86,191.98 108.43,192.28 109.01,192.61 109.62,192.98 110.24,193.37 110.90,193.80 111.58,194.29 112.30,194.82 113.03,195.41 113.78,196.02 114.54,196.67 115.32,197.34 116.10,198.02 116.89,198.71 117.68,199.40 118.46,200.08 119.23,200.75 120.00,201.40 120.00,208.20 119.23,207.62 118.46,207.02 117.68,206.41 116.89,205.78 116.10,205.16 115.32,204.55 114.54,203.95 113.78,203.37 113.03,202.82 112.30,202.30 111.58,201.83 110.90,201.40 110.24,201.01 109.62,200.65 109.01,200.32 108.43,200.03 107.86,199.76 107.30,199.52 106.75,199.30 106.19,199.10 105.64,198.93 105.07,198.77 104.49,198.63 103.90,198.50 103.30,198.37 102.71,198.26 102.13,198.17 101.55,198.10 100.96,198.05 100.37,198.02 99.76,198.01 99.14,198.02 98.50,198.06 97.83,198.11 97.13,198.20 96.40,198.30 95.64,198.42 94.86,198.54 94.07,198.68 93.25,198.83 92.41,199.01 91.56,199.21 90.68,199.45 89.77,199.72 88.84,200.04 87.89,200.40 86.91,200.82 85.90,201.30 84.86,201.82 83.77,202.40 82.64,203.05 81.49,203.74 80.31,204.48 79.11,205.25 77.90,206.05 76.69,206.86 75.47,207.68 74.27,208.50 73.07,209.31 71.90,210.10 70.71,210.90 69.49,211.74 68.24,212.60 66.97,213.49 65.71,214.38 64.46,215.27 63.23,216.14 62.05,217.00 60.92,217.82 59.86,218.60 58.88,219.33 58.00,220.00 57.24,220.56 56.62,221.06 56.10,221.50 55.66,221.90 55.28,222.27 54.92,222.62 54.56,222.96 54.19,223.32 53.76,223.70 53.25,224.11 52.64,224.58 51.90,225.10 51.04,225.69 50.09,226.31 49.06,226.97 47.97,227.66 46.83,228.37 45.66,229.10 44.45,229.83 43.24,230.58 42.02,231.32 40.82,232.06 39.64,232.79 38.50,233.50" fill="#dedede" stroke="none"/><polyline points="38.50,229.50 39.64,228.65 40.82,227.79 42.02,226.90 43.24,226.01 44.45,225.12 45.66,224.24 46.83,223.37 47.97,222.53 49.06,221.71 50.09,220.93 51.04,220.19 51.90,219.50 52.64,218.88 53.25,218.34 53.76,217.86 54.19,217.42 54.56,217.01 54.92,216.62 55.28,216.22 55.66,215.81 56.10,215.35 56.62,214.84 57.24,214.26 58.00,213.60 58.88,212.88 59.86,212.09 60.92,211.25 62.05,210.36 63.23,209.44 64.46,208.50 65.71,207.53 66.97,206.57 68.24,205.62 69.49,204.68 70.71,203.77 71.90,202.90 73.07,202.04 74.27,201.16 75.47,200.28 76.69,199.39 77.90,198.50 79.11,197.64 80.31,196.80 81.49,195.99 82.64,195.23 83.77,194.52 84.86,193.88 85.90,193.30 86.91,192.82 87.89,192.40 88.84,192.04 89.77,191.72 90.68,191.45 91.56,191.21 92.41,191.01 93.25,190.83 94.07,190.68 94.86,190.54 95.64,190.42 96.40,190.30 97.13,190.20 97.83,190.11 98.50,190.06 99.14,190.02 99.76,190.01 100.37,190.02 100.96,190.05 101.55,190.10 102.13,190.17 102.71,190.26 103.30,190.37 103.90,190.50 104.49,190.66 105.07,190.83 105.64,191.02 106.19,191.23 106.75,191.46 107.30,191.71 107.86,191.98 108.43,192.28 109.01,192.61 109.62,192.98 110.24,193.37 110.90,193.80 111.58,194.29 112.30,194.82 113.03,195.41 113.78,196.02 114.54,196.67 115.32,197.34 116.10,198.02 116.89,198.71 117.68,199.40 118.46,200.08 119.23,200.75 120.00,201.40" fill="none" stroke="#f01e1e" stroke-width="1.1" stroke-dasharray="2.3,2.3"/><polyline points="38.50,233.50 39.64,232.79 40.82,232.06 42.02,231.32 43.24,230.58 44.45,229.83 45.66,229.10 46.83,228.37 47.97,227.66 49.06,226.97 50.09,226.31 51.04,225.69 51.90,225.10 52.64,224.58 53.25,224.11 53.76,223.70 54.19,223.32 54.56,222.96 54.92,222.62 55.28,222.27 55.66,221.90 56.10,221.50 56.62,221.06 57.24,220.56 58.00,220.00 58.88,219.33 59.86,218.60 60.92,217.82 62.05,217.00 63.23,216.14 64.46,215.27 65.71,214.38 66.97,213.49 68.24,212.60 69.49,211.74 70.71,210.90 71.90,210.10 73.07,209.31 74.27,208.50 75.47,207.68 76.69,206.86 77.90,206.05 79.11,205.25 80.31,204.48 81.49,203.74 82.64,203.05 83.77,202.40 84.86,201.82 85.90,201.30 86.91,200.82 87.89,200.40 88.84,200.04 89.77,199.72 90.68,199.45 91.56,199.21 92.41,199.01 93.25,198.83 94.07,198.68 94.86,198.54 95.64,198.42 96.40,198.30 97.13,198.20 97.83,198.11 98.50,198.06 99.14,198.02 99.76,198.01 100.37,198.02 100.96,198.05 101.55,198.10 102.13,198.17 102.71,198.26 103.30,198.37 103.90,198.50 104.49,198.63 105.07,198.77 105.64,198.93 106.19,199.10 106.75,199.30 107.30,199.52 107.86,199.76 108.43,200.03 109.01,200.32 109.62,200.65 110.24,201.01 110.90,201.40 111.58,201.83 112.30,202.30 113.03,202.82 113.78,203.37 114.54,203.95 115.32,204.55 116.10,205.16 116.89,205.78 117.68,206.41 118.46,207.02 119.23,207.62 120.00,208.20" fill="none" stroke="#f01e1e" stroke-width="1.1" stroke-dasharray="2.3,2.3"/><polyline points="38.50,231.50 39.64,230.72 40.82,229.92 42.02,229.11 43.24,228.30 44.45,227.48 45.66,226.67 46.83,225.87 47.97,225.09 49.06,224.34 50.09,223.62 51.04,222.94 51.90,222.30 52.64,221.73 53.25,221.22 53.76,220.78 54.19,220.37 54.56,219.99 54.92,219.62 55.28,219.24 55.66,218.85 56.10,218.43 56.62,217.95 57.24,217.41 58.00,216.80 58.88,216.11 59.86,215.35 60.92,214.54 62.05,213.68 63.23,212.79 64.46,211.88 65.71,210.96 66.97,210.03 68.24,209.11 69.49,208.21 70.71,207.34 71.90,206.50 73.07,205.68 74.27,204.83 75.47,203.98 76.69,203.12 77.90,202.27 79.11,201.44 80.31,200.64 81.49,199.87 82.64,199.14 83.77,198.46 84.86,197.85 85.90,197.30 86.91,196.82 87.89,196.40 88.84,196.04 89.77,195.72 90.68,195.45 91.56,195.21 92.41,195.01 93.25,194.83 94.07,194.68 94.86,194.54 95.64,194.42 96.40,194.30 97.13,194.20 97.83,194.11 98.50,194.06 99.14,194.02 99.76,194.01 100.37,194.02 100.96,194.05 101.55,194.10 102.13,194.17 102.71,194.26 103.30,194.37 103.90,194.50 104.49,194.64 105.07,194.80 105.64,194.97 106.19,195.17 106.75,195.38 107.30,195.61 107.86,195.87 108.43,196.16 109.01,196.47 109.62,196.81 110.24,197.19 110.90,197.60 111.58,198.06 112.30,198.56 113.03,199.11 113.78,199.70 114.54,200.31 115.32,200.94 116.10,201.59 116.89,202.25 117.68,202.90 118.46,203.55 119.23,204.19 120.00,204.80" fill="none" stroke="#1c1c1c" stroke-width="0.95"/><circle cx="89.5" cy="148.7" r="1.6" fill="#000"/><circle cx="92.1" cy="152.7" r="1.45" fill="none" stroke="#000" stroke-width="0.8"/><polygon points="82.1,151.7 83.8,154.8 80.3,154.8" fill="none" stroke="#000" stroke-width="0.75"/><circle cx="105.9" cy="156.5" r="1.6" fill="#000"/><polygon points="105.7,156.7 107.6,160.2 103.8,160.2" fill="#000"/><circle cx="68.9" cy="162.9" r="1.45" fill="none" stroke="#000" stroke-width="0.8"/><polygon points="78.3,160.0 80.2,163.4 76.4,163.4" fill="#000"/><circle cx="82.4" cy="166.2" r="1.6" fill="#000"/><polygon points="77.4,166.5 79.3,169.9 75.5,169.9" fill="#000"/><circle cx="70.4" cy="172.6" r="1.6" fill="#000"/><polygon points="82.4,171.1 84.2,174.2 80.7,174.2" fill="none" stroke="#000" stroke-width="0.75"/><polygon points="102.5,170.9 104.4,174.3 100.6,174.3" fill="#000"/><circle cx="111.0" cy="167.7" r="1.45" fill="none" stroke="#000" stroke-width="0.8"/><circle cx="76.1" cy="178.6" r="1.45" fill="none" stroke="#000" stroke-width="0.8"/><circle cx="85.8" cy="181.1" r="1.6" fill="#000"/><circle cx="74.9" cy="183.0" r="1.45" fill="none" stroke="#000" stroke-width="0.8"/><circle cx="58.9" cy="187.1" r="1.45" fill="none" stroke="#000" stroke-width="0.8"/><circle cx="79.4" cy="187.5" r="1.45" fill="none" stroke="#000" stroke-width="0.8"/><polygon points="105.5,181.9 107.2,185.0 103.8,185.0" fill="none" stroke="#000" stroke-width="0.75"/><polygon points="81.6,191.1 83.3,194.2 79.8,194.2" fill="none" stroke="#000" stroke-width="0.75"/><polygon points="93.1,186.9 95.0,190.3 91.2,190.3" fill="#000"/><polygon points="91.3,187.9 93.2,191.3 89.4,191.3" fill="#000"/><circle cx="101.8" cy="188.6" r="1.45" fill="none" stroke="#000" stroke-width="0.8"/><polygon points="95.5,190.6 97.4,194.0 93.6,194.0" fill="#000"/><circle cx="79.4" cy="195.7" r="1.45" fill="none" stroke="#000" stroke-width="0.8"/><polygon points="62.2,198.3 64.0,201.4 60.5,201.4" fill="none" stroke="#000" stroke-width="0.75"/><polygon points="67.4,199.1 69.2,202.2 65.7,202.2" fill="none" stroke="#000" stroke-width="0.75"/><polygon points="112.2,196.1 114.0,199.2 110.5,199.2" fill="none" stroke="#000" stroke-width="0.75"/><polygon points="60.2,199.7 62.1,203.2 58.3,203.2" fill="#000"/><polygon points="62.4,199.5 64.2,202.6 60.6,202.6" fill="none" stroke="#000" stroke-width="0.75"/><circle cx="76.5" cy="211.5" r="1.6" fill="#000"/><polygon points="80.5,213.4 82.4,216.8 78.6,216.8" fill="#000"/><polygon points="67.6,199.8 69.3,202.9 65.8,202.9" fill="none" stroke="#000" stroke-width="0.75"/><polygon points="67.1,202.6 69.0,206.0 65.2,206.0" fill="#000"/><circle cx="78.5" cy="202.9" r="1.45" fill="none" stroke="#000" stroke-width="0.8"/><polygon points="85.5,200.8 87.4,204.2 83.6,204.2" fill="#000"/><circle cx="92.2" cy="204.4" r="1.6" fill="#000"/><circle cx="93.0" cy="209.6" r="1.6" fill="#000"/><polygon points="71.0,207.5 72.9,210.9 69.1,210.9" fill="#000"/><circle cx="65.3" cy="214.1" r="1.6" fill="#000"/><circle cx="70.6" cy="211.9" r="1.45" fill="none" stroke="#000" stroke-width="0.8"/><polygon points="73.6,209.0 75.5,212.4 71.7,212.4" fill="#000"/><circle cx="78.8" cy="214.1" r="1.6" fill="#000"/><polygon points="81.8,207.5 83.7,210.9 79.9,210.9" fill="#000"/><circle cx="83.0" cy="213.3" r="1.6" fill="#000"/><polygon points="69.8,214.5 71.7,217.9 67.9,217.9" fill="#000"/><circle cx="64.1" cy="218.6" r="1.45" fill="none" stroke="#000" stroke-width="0.8"/><polygon points="77.3,215.0 79.2,218.4 75.4,218.4" fill="#000"/><circle cx="81.5" cy="216.0" r="1.45" fill="none" stroke="#000" stroke-width="0.8"/><circle cx="83.3" cy="217.8" r="1.6" fill="#000"/><circle cx="89.5" cy="214.1" r="1.45" fill="none" stroke="#000" stroke-width="0.8"/><circle cx="40.0" cy="220.0" r="1.45" fill="none" stroke="#000" stroke-width="0.8"/><polygon points="43.3,215.9 45.0,219.0 41.5,219.0" fill="none" stroke="#000" stroke-width="0.75"/><polygon points="46.7,215.2 48.5,218.3 45.0,218.3" fill="none" stroke="#000" stroke-width="0.75"/><polygon points="44.1,220.9 46.0,224.3 42.2,224.3" fill="#000"/><circle cx="48.2" cy="221.1" r="1.6" fill="#000"/><polygon points="52.2,222.0 54.1,225.4 50.3,225.4" fill="#000"/><circle cx="58.2" cy="225.0" r="1.6" fill="#000"/><circle cx="60.9" cy="222.0" r="1.6" fill="#000"/><circle cx="60.6" cy="225.3" r="1.45" fill="none" stroke="#000" stroke-width="0.8"/><polygon points="45.9,224.1 47.6,227.2 44.1,227.2" fill="none" stroke="#000" stroke-width="0.75"/><polygon points="40.7,231.6 42.5,234.7 39.0,234.7" fill="none" stroke="#000" stroke-width="0.75"/><circle cx="45.2" cy="234.5" r="1.6" fill="#000"/><polygon points="67.6,229.9 69.5,233.3 65.7,233.3" fill="#000"/><circle cx="77.3" cy="232.0" r="1.6" fill="#000"/><circle cx="114.0" cy="196.9" r="1.6" fill="#000"/><circle cx="112.1" cy="198.1" r="1.45" fill="none" stroke="#000" stroke-width="0.8"/><polygon points="119.5,203.2 121.2,206.3 117.8,206.3" fill="none" stroke="#000" stroke-width="0.75"/><circle cx="116.5" cy="208.1" r="1.45" fill="none" stroke="#000" stroke-width="0.8"/><circle cx="113.1" cy="208.6" r="1.6" fill="#000"/><polygon points="93.4,201.5 95.3,204.9 91.5,204.9" fill="#000"/><polygon points="95.6,200.0 97.5,203.4 93.7,203.4" fill="#000"/><circle cx="92.7" cy="206.6" r="1.6" fill="#000"/><polygon points="91.9,207.5 93.8,210.9 90.0,210.9" fill="#000"/><circle cx="100.1" cy="204.7" r="1.45" fill="none" stroke="#000" stroke-width="0.8"/><circle cx="100.1" cy="207.1" r="1.45" fill="none" stroke="#000" stroke-width="0.8"/><circle cx="88.9" cy="213.6" r="1.45" fill="none" stroke="#000" stroke-width="0.8"/><circle cx="78.8" cy="196.2" r="1.45" fill="none" stroke="#000" stroke-width="0.8"/><circle cx="52.1" cy="175.8" r="1.45" fill="none" stroke="#000" stroke-width="0.8"/><line x1="33.2" y1="238.4" x2="33.2" y2="150.0" stroke="#3a3a3a" stroke-width="0.9"/><line x1="29.400000000000002" y1="238.40" x2="33.2" y2="238.40" stroke="#3a3a3a" stroke-width="0.9"/><text x="24.20" y="238.40" transform="rotate(-90 24.20 238.40)" text-anchor="middle" font-size="5.8" fill="#111" stroke="#111" stroke-width="0.35">0</text><line x1="29.400000000000002" y1="216.30" x2="33.2" y2="216.30" stroke="#3a3a3a" stroke-width="0.9"/><text x="24.20" y="216.30" transform="rotate(-90 24.20 216.30)" text-anchor="middle" font-size="5.8" fill="#111" stroke="#111" stroke-width="0.35">16</text><line x1="29.400000000000002" y1="194.20" x2="33.2" y2="194.20" stroke="#3a3a3a" stroke-width="0.9"/><text x="24.20" y="194.20" transform="rotate(-90 24.20 194.20)" text-anchor="middle" font-size="5.8" fill="#111" stroke="#111" stroke-width="0.35">32</text><line x1="29.400000000000002" y1="172.10" x2="33.2" y2="172.10" stroke="#3a3a3a" stroke-width="0.9"/><text x="24.20" y="172.10" transform="rotate(-90 24.20 172.10)" text-anchor="middle" font-size="5.8" fill="#111" stroke="#111" stroke-width="0.35">48</text><line x1="29.400000000000002" y1="150.00" x2="33.2" y2="150.00" stroke="#3a3a3a" stroke-width="0.9"/><text x="24.20" y="150.00" transform="rotate(-90 24.20 150.00)" text-anchor="middle" font-size="5.8" fill="#111" stroke="#111" stroke-width="0.35">64</text><line x1="37.35999999999999" y1="242.6" x2="129.34" y2="242.6" stroke="#3a3a3a" stroke-width="0.9"/><line x1="37.36" y1="242.6" x2="37.36" y2="246.4" stroke="#3a3a3a" stroke-width="0.9"/><text x="37.36" y="255.70" text-anchor="middle" font-size="6.1" fill="#111" stroke="#111" stroke-width="0.4">−3</text><line x1="52.69" y1="242.6" x2="52.69" y2="246.4" stroke="#3a3a3a" stroke-width="0.9"/><text x="52.69" y="255.70" text-anchor="middle" font-size="6.1" fill="#111" stroke="#111" stroke-width="0.4">−2</text><line x1="68.02" y1="242.6" x2="68.02" y2="246.4" stroke="#3a3a3a" stroke-width="0.9"/><text x="68.02" y="255.70" text-anchor="middle" font-size="6.1" fill="#111" stroke="#111" stroke-width="0.4">−1</text><line x1="83.35" y1="242.6" x2="83.35" y2="246.4" stroke="#3a3a3a" stroke-width="0.9"/><text x="83.35" y="255.70" text-anchor="middle" font-size="6.1" fill="#111" stroke="#111" stroke-width="0.4">0</text><line x1="98.68" y1="242.6" x2="98.68" y2="246.4" stroke="#3a3a3a" stroke-width="0.9"/><text x="98.68" y="255.70" text-anchor="middle" font-size="6.1" fill="#111" stroke="#111" stroke-width="0.4">1</text><line x1="114.01" y1="242.6" x2="114.01" y2="246.4" stroke="#3a3a3a" stroke-width="0.9"/><text x="114.01" y="255.70" text-anchor="middle" font-size="6.1" fill="#111" stroke="#111" stroke-width="0.4">2</text><line x1="129.34" y1="242.6" x2="129.34" y2="246.4" stroke="#3a3a3a" stroke-width="0.9"/><text x="129.34" y="255.70" text-anchor="middle" font-size="6.1" fill="#111" stroke="#111" stroke-width="0.4">3</text><text x="30.20" y="141.80" font-size="8" font-weight="bold" fill="#000">d)</text><polygon points="170.20,218.60 171.00,218.00 171.79,217.42 172.55,216.84 173.31,216.26 174.08,215.68 174.84,215.10 175.63,214.51 176.43,213.91 177.26,213.31 178.13,212.69 179.04,212.05 180.00,211.40 181.01,210.74 182.08,210.04 183.18,209.33 184.33,208.59 185.50,207.85 186.69,207.11 187.89,206.36 189.11,205.63 190.32,204.91 191.53,204.21 192.73,203.54 193.90,202.90 195.09,202.32 196.32,201.75 197.58,201.17 198.85,200.61 200.13,200.06 201.39,199.53 202.62,199.03 203.81,198.56 204.95,198.13 206.02,197.74 207.01,197.39 207.90,197.10 208.67,196.87 209.31,196.68 209.84,196.53 210.30,196.43 210.70,196.36 211.08,196.33 211.44,196.32 211.82,196.34 212.25,196.38 212.73,196.44 213.31,196.51 214.00,196.60 214.79,196.72 215.64,196.84 216.54,196.98 217.49,197.15 218.48,197.33 219.51,197.54 220.56,197.79 221.63,198.06 222.72,198.38 223.82,198.74 224.91,199.15 226.00,199.60 227.10,200.12 228.22,200.71 229.36,201.35 230.52,202.05 231.70,202.78 232.88,203.54 234.07,204.32 235.27,205.11 236.46,205.91 237.65,206.69 238.83,207.46 240.00,208.20 241.16,208.94 242.32,209.68 243.48,210.43 244.64,211.17 245.79,211.92 246.95,212.66 248.11,213.41 249.26,214.16 250.42,214.92 251.58,215.67 252.74,216.44 253.90,217.20 255.06,217.94 256.23,218.68 257.39,219.42 258.56,220.17 259.73,220.92 260.89,221.67 262.06,222.43 263.23,223.19 264.40,223.94 265.57,224.70 266.73,225.45 267.90,226.20 267.90,231.80 266.73,231.08 265.57,230.36 264.40,229.64 263.23,228.92 262.06,228.20 260.89,227.48 259.73,226.76 258.56,226.04 257.39,225.32 256.23,224.61 255.06,223.90 253.90,223.20 252.74,222.54 251.58,221.87 250.42,221.22 249.26,220.56 248.11,219.91 246.95,219.26 245.79,218.62 244.64,217.97 243.48,217.33 242.32,216.68 241.16,216.04 240.00,215.40 238.83,214.73 237.65,214.03 236.46,213.31 235.27,212.58 234.07,211.86 232.88,211.15 231.70,210.45 230.52,209.79 229.36,209.16 228.22,208.58 227.10,208.06 226.00,207.60 224.91,207.20 223.82,206.85 222.72,206.55 221.63,206.28 220.56,206.06 219.51,205.87 218.48,205.71 217.49,205.57 216.54,205.46 215.64,205.36 214.79,205.28 214.00,205.20 213.31,205.11 212.73,205.04 212.25,204.98 211.82,204.94 211.44,204.92 211.08,204.93 210.70,204.96 210.30,205.03 209.84,205.13 209.31,205.28 208.67,205.47 207.90,205.70 207.01,205.98 206.02,206.31 204.95,206.69 203.81,207.10 202.62,207.56 201.39,208.04 200.13,208.55 198.85,209.08 197.58,209.62 196.32,210.18 195.09,210.74 193.90,211.30 192.73,211.83 191.53,212.40 190.32,213.00 189.11,213.61 187.89,214.24 186.69,214.88 185.50,215.53 184.33,216.17 183.18,216.80 182.08,217.42 181.01,218.02 180.00,218.60 179.04,219.14 178.13,219.66 177.26,220.17 176.43,220.68 175.63,221.17 174.84,221.67 174.08,222.15 173.31,222.64 172.55,223.12 171.79,223.61 171.00,224.10 170.20,224.60" fill="#dedede" stroke="none"/><polyline points="170.20,218.60 171.00,218.00 171.79,217.42 172.55,216.84 173.31,216.26 174.08,215.68 174.84,215.10 175.63,214.51 176.43,213.91 177.26,213.31 178.13,212.69 179.04,212.05 180.00,211.40 181.01,210.74 182.08,210.04 183.18,209.33 184.33,208.59 185.50,207.85 186.69,207.11 187.89,206.36 189.11,205.63 190.32,204.91 191.53,204.21 192.73,203.54 193.90,202.90 195.09,202.32 196.32,201.75 197.58,201.17 198.85,200.61 200.13,200.06 201.39,199.53 202.62,199.03 203.81,198.56 204.95,198.13 206.02,197.74 207.01,197.39 207.90,197.10 208.67,196.87 209.31,196.68 209.84,196.53 210.30,196.43 210.70,196.36 211.08,196.33 211.44,196.32 211.82,196.34 212.25,196.38 212.73,196.44 213.31,196.51 214.00,196.60 214.79,196.72 215.64,196.84 216.54,196.98 217.49,197.15 218.48,197.33 219.51,197.54 220.56,197.79 221.63,198.06 222.72,198.38 223.82,198.74 224.91,199.15 226.00,199.60 227.10,200.12 228.22,200.71 229.36,201.35 230.52,202.05 231.70,202.78 232.88,203.54 234.07,204.32 235.27,205.11 236.46,205.91 237.65,206.69 238.83,207.46 240.00,208.20 241.16,208.94 242.32,209.68 243.48,210.43 244.64,211.17 245.79,211.92 246.95,212.66 248.11,213.41 249.26,214.16 250.42,214.92 251.58,215.67 252.74,216.44 253.90,217.20 255.06,217.94 256.23,218.68 257.39,219.42 258.56,220.17 259.73,220.92 260.89,221.67 262.06,222.43 263.23,223.19 264.40,223.94 265.57,224.70 266.73,225.45 267.90,226.20" fill="none" stroke="#f01e1e" stroke-width="1.1" stroke-dasharray="2.3,2.3"/><polyline points="170.20,224.60 171.00,224.10 171.79,223.61 172.55,223.12 173.31,222.64 174.08,222.15 174.84,221.67 175.63,221.17 176.43,220.68 177.26,220.17 178.13,219.66 179.04,219.14 180.00,218.60 181.01,218.02 182.08,217.42 183.18,216.80 184.33,216.17 185.50,215.53 186.69,214.88 187.89,214.24 189.11,213.61 190.32,213.00 191.53,212.40 192.73,211.83 193.90,211.30 195.09,210.74 196.32,210.18 197.58,209.62 198.85,209.08 200.13,208.55 201.39,208.04 202.62,207.56 203.81,207.10 204.95,206.69 206.02,206.31 207.01,205.98 207.90,205.70 208.67,205.47 209.31,205.28 209.84,205.13 210.30,205.03 210.70,204.96 211.08,204.93 211.44,204.92 211.82,204.94 212.25,204.98 212.73,205.04 213.31,205.11 214.00,205.20 214.79,205.28 215.64,205.36 216.54,205.46 217.49,205.57 218.48,205.71 219.51,205.87 220.56,206.06 221.63,206.28 222.72,206.55 223.82,206.85 224.91,207.20 226.00,207.60 227.10,208.06 228.22,208.58 229.36,209.16 230.52,209.79 231.70,210.45 232.88,211.15 234.07,211.86 235.27,212.58 236.46,213.31 237.65,214.03 238.83,214.73 240.00,215.40 241.16,216.04 242.32,216.68 243.48,217.33 244.64,217.97 245.79,218.62 246.95,219.26 248.11,219.91 249.26,220.56 250.42,221.22 251.58,221.87 252.74,222.54 253.90,223.20 255.06,223.90 256.23,224.61 257.39,225.32 258.56,226.04 259.73,226.76 260.89,227.48 262.06,228.20 263.23,228.92 264.40,229.64 265.57,230.36 266.73,231.08 267.90,231.80" fill="none" stroke="#f01e1e" stroke-width="1.1" stroke-dasharray="2.3,2.3"/><polyline points="170.20,221.60 171.00,221.05 171.79,220.52 172.55,219.98 173.31,219.45 174.08,218.92 174.84,218.38 175.63,217.84 176.43,217.30 177.26,216.74 178.13,216.18 179.04,215.60 180.00,215.00 181.01,214.38 182.08,213.73 183.18,213.06 184.33,212.38 185.50,211.69 186.69,210.99 187.89,210.30 189.11,209.62 190.32,208.95 191.53,208.30 192.73,207.69 193.90,207.10 195.09,206.53 196.32,205.96 197.58,205.40 198.85,204.84 200.13,204.31 201.39,203.79 202.62,203.29 203.81,202.83 204.95,202.41 206.02,202.02 207.01,201.69 207.90,201.40 208.67,201.17 209.31,200.98 209.84,200.83 210.30,200.73 210.70,200.66 211.08,200.63 211.44,200.62 211.82,200.64 212.25,200.68 212.73,200.74 213.31,200.81 214.00,200.90 214.79,201.00 215.64,201.10 216.54,201.22 217.49,201.36 218.48,201.52 219.51,201.71 220.56,201.92 221.63,202.17 222.72,202.46 223.82,202.79 224.91,203.17 226.00,203.60 227.10,204.09 228.22,204.65 229.36,205.26 230.52,205.92 231.70,206.62 232.88,207.34 234.07,208.09 235.27,208.85 236.46,209.61 237.65,210.36 238.83,211.09 240.00,211.80 241.16,212.49 242.32,213.18 243.48,213.88 244.64,214.57 245.79,215.27 246.95,215.96 248.11,216.66 249.26,217.36 250.42,218.07 251.58,218.77 252.74,219.49 253.90,220.20 255.06,220.92 256.23,221.64 257.39,222.37 258.56,223.10 259.73,223.84 260.89,224.57 262.06,225.31 263.23,226.05 264.40,226.79 265.57,227.53 266.73,228.27 267.90,229.00" fill="none" stroke="#1c1c1c" stroke-width="0.95"/><polygon points="187.4,146.8 189.2,149.9 185.7,149.9" fill="none" stroke="#000" stroke-width="0.75"/><polygon points="188.9,149.8 190.7,152.9 187.2,152.9" fill="none" stroke="#000" stroke-width="0.75"/><polygon points="219.9,146.8 221.7,149.9 218.2,149.9" fill="none" stroke="#000" stroke-width="0.75"/><polygon points="227.0,149.4 228.8,152.5 225.2,152.5" fill="none" stroke="#000" stroke-width="0.75"/><polygon points="196.7,159.5 198.4,162.6 194.9,162.6" fill="none" stroke="#000" stroke-width="0.75"/><polygon points="203.1,160.0 205.0,163.4 201.2,163.4" fill="#000"/><circle cx="190.7" cy="165.1" r="1.6" fill="#000"/><polygon points="221.0,172.2 222.8,175.3 219.2,175.3" fill="none" stroke="#000" stroke-width="0.75"/><polygon points="221.7,175.6 223.4,178.7 219.9,178.7" fill="none" stroke="#000" stroke-width="0.75"/><circle cx="224.7" cy="172.6" r="1.6" fill="#000"/><circle cx="226.5" cy="173.6" r="1.45" fill="none" stroke="#000" stroke-width="0.8"/><polygon points="203.5,180.5 205.4,183.9 201.6,183.9" fill="#000"/><circle cx="212.8" cy="180.5" r="1.6" fill="#000"/><circle cx="215.0" cy="181.6" r="1.45" fill="none" stroke="#000" stroke-width="0.8"/><polygon points="217.3,182.4 219.2,185.8 215.4,185.8" fill="#000"/><polygon points="224.4,182.6 226.2,185.7 222.7,185.7" fill="none" stroke="#000" stroke-width="0.75"/><polygon points="225.5,186.5 227.4,189.9 223.6,189.9" fill="#000"/><circle cx="191.9" cy="186.5" r="1.45" fill="none" stroke="#000" stroke-width="0.8"/><circle cx="200.1" cy="189.0" r="1.6" fill="#000"/><circle cx="217.3" cy="194.5" r="1.45" fill="none" stroke="#000" stroke-width="0.8"/><polygon points="221.0,193.3 222.9,196.8 219.1,196.8" fill="#000"/><polygon points="241.6,187.9 243.3,191.0 239.8,191.0" fill="none" stroke="#000" stroke-width="0.75"/><polygon points="233.1,192.6 234.8,195.7 231.3,195.7" fill="none" stroke="#000" stroke-width="0.75"/><polygon points="233.0,194.4 234.9,197.8 231.1,197.8" fill="#000"/><polygon points="236.4,196.8 238.2,199.9 234.7,199.9" fill="none" stroke="#000" stroke-width="0.75"/><polygon points="237.6,197.8 239.5,201.2 235.7,201.2" fill="#000"/><circle cx="226.7" cy="199.5" r="1.6" fill="#000"/><circle cx="170.2" cy="205.9" r="1.45" fill="none" stroke="#000" stroke-width="0.8"/><polygon points="177.0,203.8 178.9,207.2 175.1,207.2" fill="#000"/><circle cx="215.0" cy="203.6" r="1.6" fill="#000"/><circle cx="217.3" cy="204.4" r="1.45" fill="none" stroke="#000" stroke-width="0.8"/><circle cx="223.5" cy="209.2" r="1.45" fill="none" stroke="#000" stroke-width="0.8"/><polygon points="192.6,206.0 194.5,209.4 190.7,209.4" fill="#000"/><circle cx="199.6" cy="213.0" r="1.45" fill="none" stroke="#000" stroke-width="0.8"/><circle cx="185.9" cy="215.1" r="1.6" fill="#000"/><circle cx="197.1" cy="218.1" r="1.6" fill="#000"/><polygon points="221.0,214.5 222.9,217.9 219.1,217.9" fill="#000"/><polygon points="218.7,221.7 220.6,225.2 216.8,225.2" fill="#000"/><polygon points="221.0,221.7 222.9,225.2 219.1,225.2" fill="#000"/><polygon points="225.5,220.1 227.2,223.2 223.8,223.2" fill="none" stroke="#000" stroke-width="0.75"/><circle cx="227.0" cy="225.3" r="1.6" fill="#000"/><polygon points="174.0,218.9 175.8,222.0 172.2,222.0" fill="none" stroke="#000" stroke-width="0.75"/><polygon points="179.9,219.2 181.7,222.3 178.2,222.3" fill="none" stroke="#000" stroke-width="0.75"/><circle cx="182.2" cy="226.8" r="1.45" fill="none" stroke="#000" stroke-width="0.8"/><circle cx="192.6" cy="224.5" r="1.45" fill="none" stroke="#000" stroke-width="0.8"/><circle cx="174.7" cy="233.5" r="1.6" fill="#000"/><polygon points="182.9,231.9 184.8,235.3 181.0,235.3" fill="#000"/><circle cx="227.4" cy="202.1" r="1.6" fill="#000"/><polygon points="229.6,201.5 231.5,204.9 227.7,204.9" fill="#000"/><circle cx="230.4" cy="204.4" r="1.6" fill="#000"/><circle cx="246.8" cy="204.1" r="1.6" fill="#000"/><circle cx="227.1" cy="209.6" r="1.45" fill="none" stroke="#000" stroke-width="0.8"/><circle cx="234.6" cy="212.6" r="1.6" fill="#000"/><polygon points="244.6,207.5 246.5,210.9 242.7,210.9" fill="#000"/><polygon points="251.0,211.2 252.9,214.7 249.1,214.7" fill="#000"/><polygon points="247.6,213.7 249.3,216.8 245.8,216.8" fill="none" stroke="#000" stroke-width="0.75"/><circle cx="242.0" cy="217.8" r="1.6" fill="#000"/><circle cx="245.0" cy="216.6" r="1.45" fill="none" stroke="#000" stroke-width="0.8"/><polygon points="260.2,213.5 262.1,216.9 258.3,216.9" fill="#000"/><polygon points="260.5,216.5 262.4,219.9 258.6,219.9" fill="#000"/><circle cx="266.9" cy="223.0" r="1.45" fill="none" stroke="#000" stroke-width="0.8"/><polygon points="229.6,221.4 231.5,224.8 227.7,224.8" fill="#000"/><circle cx="227.4" cy="226.0" r="1.6" fill="#000"/><circle cx="236.4" cy="220.1" r="1.45" fill="none" stroke="#000" stroke-width="0.8"/><circle cx="242.0" cy="224.1" r="1.6" fill="#000"/><circle cx="245.3" cy="223.8" r="1.45" fill="none" stroke="#000" stroke-width="0.8"/><circle cx="247.1" cy="226.8" r="1.6" fill="#000"/><circle cx="242.0" cy="226.8" r="1.45" fill="none" stroke="#000" stroke-width="0.8"/><circle cx="253.5" cy="225.0" r="1.6" fill="#000"/><circle cx="259.5" cy="224.1" r="1.6" fill="#000"/><polygon points="245.3,228.2 247.1,231.3 243.6,231.3" fill="none" stroke="#000" stroke-width="0.75"/><circle cx="240.8" cy="232.7" r="1.45" fill="none" stroke="#000" stroke-width="0.8"/><line x1="168.3" y1="237.7" x2="168.3" y2="160.89999999999998" stroke="#3a3a3a" stroke-width="0.9"/><line x1="164.5" y1="237.70" x2="168.3" y2="237.70" stroke="#3a3a3a" stroke-width="0.9"/><text x="159.30" y="237.70" transform="rotate(-90 159.30 237.70)" text-anchor="middle" font-size="5.8" fill="#111" stroke="#111" stroke-width="0.35">0</text><line x1="164.5" y1="218.50" x2="168.3" y2="218.50" stroke="#3a3a3a" stroke-width="0.9"/><text x="159.30" y="218.50" transform="rotate(-90 159.30 218.50)" text-anchor="middle" font-size="5.8" fill="#111" stroke="#111" stroke-width="0.35">4</text><line x1="164.5" y1="199.30" x2="168.3" y2="199.30" stroke="#3a3a3a" stroke-width="0.9"/><text x="159.30" y="199.30" transform="rotate(-90 159.30 199.30)" text-anchor="middle" font-size="5.8" fill="#111" stroke="#111" stroke-width="0.35">8</text><line x1="164.5" y1="180.10" x2="168.3" y2="180.10" stroke="#3a3a3a" stroke-width="0.9"/><text x="159.30" y="180.10" transform="rotate(-90 159.30 180.10)" text-anchor="middle" font-size="5.8" fill="#111" stroke="#111" stroke-width="0.35">12</text><line x1="164.5" y1="160.90" x2="168.3" y2="160.90" stroke="#3a3a3a" stroke-width="0.9"/><text x="159.30" y="160.90" transform="rotate(-90 159.30 160.90)" text-anchor="middle" font-size="5.8" fill="#111" stroke="#111" stroke-width="0.35">16</text><line x1="171.70999999999998" y1="242.6" x2="263.69" y2="242.6" stroke="#3a3a3a" stroke-width="0.9"/><line x1="171.71" y1="242.6" x2="171.71" y2="246.4" stroke="#3a3a3a" stroke-width="0.9"/><text x="171.71" y="255.70" text-anchor="middle" font-size="6.1" fill="#111" stroke="#111" stroke-width="0.4">−3</text><line x1="187.04" y1="242.6" x2="187.04" y2="246.4" stroke="#3a3a3a" stroke-width="0.9"/><text x="187.04" y="255.70" text-anchor="middle" font-size="6.1" fill="#111" stroke="#111" stroke-width="0.4">−2</text><line x1="202.37" y1="242.6" x2="202.37" y2="246.4" stroke="#3a3a3a" stroke-width="0.9"/><text x="202.37" y="255.70" text-anchor="middle" font-size="6.1" fill="#111" stroke="#111" stroke-width="0.4">−1</text><line x1="217.70" y1="242.6" x2="217.70" y2="246.4" stroke="#3a3a3a" stroke-width="0.9"/><text x="217.70" y="255.70" text-anchor="middle" font-size="6.1" fill="#111" stroke="#111" stroke-width="0.4">0</text><line x1="233.03" y1="242.6" x2="233.03" y2="246.4" stroke="#3a3a3a" stroke-width="0.9"/><text x="233.03" y="255.70" text-anchor="middle" font-size="6.1" fill="#111" stroke="#111" stroke-width="0.4">1</text><line x1="248.36" y1="242.6" x2="248.36" y2="246.4" stroke="#3a3a3a" stroke-width="0.9"/><text x="248.36" y="255.70" text-anchor="middle" font-size="6.1" fill="#111" stroke="#111" stroke-width="0.4">2</text><line x1="263.69" y1="242.6" x2="263.69" y2="246.4" stroke="#3a3a3a" stroke-width="0.9"/><text x="263.69" y="255.70" text-anchor="middle" font-size="6.1" fill="#111" stroke="#111" stroke-width="0.4">3</text><text x="165.30" y="141.80" font-size="8" font-weight="bold" fill="#000">e)</text><polygon points="306.50,226.50 307.44,225.87 308.37,225.25 309.29,224.62 310.20,223.99 311.12,223.36 312.04,222.73 312.97,222.10 313.91,221.47 314.87,220.85 315.85,220.23 316.86,219.61 317.90,219.00 318.96,218.39 320.04,217.77 321.12,217.14 322.23,216.51 323.35,215.89 324.49,215.27 325.65,214.66 326.84,214.07 328.06,213.49 329.31,212.93 330.59,212.40 331.90,211.90 333.28,211.43 334.74,210.96 336.26,210.50 337.82,210.05 339.42,209.62 341.02,209.21 342.62,208.83 344.19,208.49 345.72,208.17 347.20,207.90 348.59,207.68 349.90,207.50 351.12,207.47 352.28,207.49 353.39,207.55 354.45,207.65 355.47,207.78 356.45,207.94 357.41,208.13 358.34,208.33 359.26,208.54 360.17,208.76 361.08,208.98 362.00,209.20 362.89,209.44 363.74,209.68 364.56,209.93 365.34,210.19 366.12,210.46 366.89,210.74 367.66,211.04 368.46,211.37 369.28,211.71 370.13,212.08 371.04,212.47 372.00,212.90 373.02,213.34 374.09,213.82 375.20,214.33 376.34,214.87 377.51,215.42 378.70,216.00 379.90,216.58 381.11,217.18 382.33,217.79 383.53,218.39 384.73,219.00 385.90,219.60 387.06,220.17 388.23,220.75 389.39,221.34 390.56,221.93 391.73,222.54 392.89,223.14 394.06,223.75 395.23,224.37 396.40,224.98 397.57,225.59 398.73,226.20 399.90,226.80 399.90,231.20 398.73,230.63 397.57,230.06 396.40,229.48 395.23,228.90 394.06,228.32 392.89,227.74 391.73,227.17 390.56,226.60 389.39,226.04 388.23,225.48 387.06,224.94 385.90,224.40 384.73,223.90 383.53,223.40 382.33,222.90 381.11,222.40 379.90,221.90 378.70,221.42 377.51,220.95 376.34,220.49 375.20,220.05 374.09,219.64 373.02,219.26 372.00,218.90 371.04,218.59 370.13,218.30 369.28,218.04 368.46,217.79 367.66,217.56 366.89,217.36 366.12,217.17 365.34,216.99 364.56,216.82 363.74,216.67 362.89,216.53 362.00,216.40 361.08,216.24 360.17,216.08 359.26,215.92 358.34,215.77 357.41,215.63 356.45,215.51 355.47,215.41 354.45,215.35 353.39,215.32 352.28,215.33 351.12,215.39 349.90,215.50 348.59,215.57 347.20,215.69 345.72,215.85 344.19,216.04 342.62,216.27 341.02,216.52 339.42,216.81 337.82,217.11 336.26,217.44 334.74,217.78 333.28,218.13 331.90,218.50 330.59,218.87 329.31,219.27 328.06,219.71 326.84,220.16 325.65,220.64 324.49,221.13 323.35,221.63 322.23,222.15 321.12,222.66 320.04,223.18 318.96,223.69 317.90,224.20 316.86,224.70 315.85,225.21 314.87,225.73 313.91,226.25 312.97,226.78 312.04,227.31 311.12,227.84 310.20,228.38 309.29,228.91 308.37,229.44 307.44,229.97 306.50,230.50" fill="#dedede" stroke="none"/><polyline points="306.50,226.50 307.44,225.87 308.37,225.25 309.29,224.62 310.20,223.99 311.12,223.36 312.04,222.73 312.97,222.10 313.91,221.47 314.87,220.85 315.85,220.23 316.86,219.61 317.90,219.00 318.96,218.39 320.04,217.77 321.12,217.14 322.23,216.51 323.35,215.89 324.49,215.27 325.65,214.66 326.84,214.07 328.06,213.49 329.31,212.93 330.59,212.40 331.90,211.90 333.28,211.43 334.74,210.96 336.26,210.50 337.82,210.05 339.42,209.62 341.02,209.21 342.62,208.83 344.19,208.49 345.72,208.17 347.20,207.90 348.59,207.68 349.90,207.50 351.12,207.47 352.28,207.49 353.39,207.55 354.45,207.65 355.47,207.78 356.45,207.94 357.41,208.13 358.34,208.33 359.26,208.54 360.17,208.76 361.08,208.98 362.00,209.20 362.89,209.44 363.74,209.68 364.56,209.93 365.34,210.19 366.12,210.46 366.89,210.74 367.66,211.04 368.46,211.37 369.28,211.71 370.13,212.08 371.04,212.47 372.00,212.90 373.02,213.34 374.09,213.82 375.20,214.33 376.34,214.87 377.51,215.42 378.70,216.00 379.90,216.58 381.11,217.18 382.33,217.79 383.53,218.39 384.73,219.00 385.90,219.60 387.06,220.17 388.23,220.75 389.39,221.34 390.56,221.93 391.73,222.54 392.89,223.14 394.06,223.75 395.23,224.37 396.40,224.98 397.57,225.59 398.73,226.20 399.90,226.80" fill="none" stroke="#f01e1e" stroke-width="1.1" stroke-dasharray="2.3,2.3"/><polyline points="306.50,230.50 307.44,229.97 308.37,229.44 309.29,228.91 310.20,228.38 311.12,227.84 312.04,227.31 312.97,226.78 313.91,226.25 314.87,225.73 315.85,225.21 316.86,224.70 317.90,224.20 318.96,223.69 320.04,223.18 321.12,222.66 322.23,222.15 323.35,221.63 324.49,221.13 325.65,220.64 326.84,220.16 328.06,219.71 329.31,219.27 330.59,218.87 331.90,218.50 333.28,218.13 334.74,217.78 336.26,217.44 337.82,217.11 339.42,216.81 341.02,216.52 342.62,216.27 344.19,216.04 345.72,215.85 347.20,215.69 348.59,215.57 349.90,215.50 351.12,215.39 352.28,215.33 353.39,215.32 354.45,215.35 355.47,215.41 356.45,215.51 357.41,215.63 358.34,215.77 359.26,215.92 360.17,216.08 361.08,216.24 362.00,216.40 362.89,216.53 363.74,216.67 364.56,216.82 365.34,216.99 366.12,217.17 366.89,217.36 367.66,217.56 368.46,217.79 369.28,218.04 370.13,218.30 371.04,218.59 372.00,218.90 373.02,219.26 374.09,219.64 375.20,220.05 376.34,220.49 377.51,220.95 378.70,221.42 379.90,221.90 381.11,222.40 382.33,222.90 383.53,223.40 384.73,223.90 385.90,224.40 387.06,224.94 388.23,225.48 389.39,226.04 390.56,226.60 391.73,227.17 392.89,227.74 394.06,228.32 395.23,228.90 396.40,229.48 397.57,230.06 398.73,230.63 399.90,231.20" fill="none" stroke="#f01e1e" stroke-width="1.1" stroke-dasharray="2.3,2.3"/><polyline points="306.50,228.50 307.44,227.92 308.37,227.34 309.29,226.76 310.20,226.18 311.12,225.60 312.04,225.02 312.97,224.44 313.91,223.86 314.87,223.29 315.85,222.72 316.86,222.16 317.90,221.60 318.96,221.04 320.04,220.47 321.12,219.90 322.23,219.33 323.35,218.76 324.49,218.20 325.65,217.65 326.84,217.11 328.06,216.60 329.31,216.10 330.59,215.64 331.90,215.20 333.28,214.78 334.74,214.37 336.26,213.97 337.82,213.58 339.42,213.21 341.02,212.87 342.62,212.55 344.19,212.26 345.72,212.01 347.20,211.80 348.59,211.62 349.90,211.50 351.12,211.43 352.28,211.41 353.39,211.43 354.45,211.50 355.47,211.60 356.45,211.72 357.41,211.88 358.34,212.05 359.26,212.23 360.17,212.42 361.08,212.61 362.00,212.80 362.89,212.99 363.74,213.18 364.56,213.38 365.34,213.59 366.12,213.81 366.89,214.05 367.66,214.30 368.46,214.58 369.28,214.87 370.13,215.19 371.04,215.53 372.00,215.90 373.02,216.30 374.09,216.73 375.20,217.19 376.34,217.68 377.51,218.18 378.70,218.71 379.90,219.24 381.11,219.79 382.33,220.34 383.53,220.90 384.73,221.45 385.90,222.00 387.06,222.55 388.23,223.11 389.39,223.69 390.56,224.27 391.73,224.85 392.89,225.44 394.06,226.04 395.23,226.63 396.40,227.23 397.57,227.82 398.73,228.41 399.90,229.00" fill="none" stroke="#1c1c1c" stroke-width="0.95"/><circle cx="337.8" cy="163.3" r="1.45" fill="none" stroke="#000" stroke-width="0.8"/><circle cx="334.5" cy="177.8" r="1.6" fill="#000"/><polygon points="330.7,178.4 332.6,181.8 328.8,181.8" fill="#000"/><circle cx="325.9" cy="193.5" r="1.6" fill="#000"/><polygon points="333.6,191.1 335.4,194.2 331.9,194.2" fill="none" stroke="#000" stroke-width="0.75"/><circle cx="336.3" cy="193.5" r="1.6" fill="#000"/><circle cx="359.5" cy="187.5" r="1.6" fill="#000"/><polygon points="357.5,190.9 359.4,194.3 355.6,194.3" fill="#000"/><polygon points="324.4,198.6 326.1,201.7 322.6,201.7" fill="none" stroke="#000" stroke-width="0.75"/><circle cx="352.7" cy="200.2" r="1.6" fill="#000"/><polygon points="364.4,146.6 366.3,150.0 362.5,150.0" fill="#000"/><circle cx="362.9" cy="171.1" r="1.6" fill="#000"/><circle cx="363.6" cy="174.1" r="1.45" fill="none" stroke="#000" stroke-width="0.8"/><polygon points="377.1,187.7 379.0,191.2 375.2,191.2" fill="#000"/><circle cx="352.4" cy="199.9" r="1.6" fill="#000"/><circle cx="362.1" cy="198.7" r="1.6" fill="#000"/><polygon points="353.6,199.0 355.5,202.4 351.7,202.4" fill="#000"/><polygon points="360.7,198.6 362.6,202.0 358.8,202.0" fill="#000"/><polygon points="361.0,197.8 362.9,201.2 359.1,201.2" fill="#000"/><circle cx="319.2" cy="207.7" r="1.6" fill="#000"/><polygon points="350.1,202.2 351.9,205.3 348.4,205.3" fill="none" stroke="#000" stroke-width="0.75"/><circle cx="354.2" cy="208.9" r="1.6" fill="#000"/><circle cx="342.3" cy="210.4" r="1.45" fill="none" stroke="#000" stroke-width="0.8"/><polygon points="358.0,207.7 359.8,210.8 356.2,210.8" fill="none" stroke="#000" stroke-width="0.75"/><polygon points="360.2,207.7 361.9,210.8 358.4,210.8" fill="none" stroke="#000" stroke-width="0.75"/><circle cx="353.5" cy="215.1" r="1.6" fill="#000"/><circle cx="359.5" cy="214.8" r="1.6" fill="#000"/><circle cx="330.4" cy="219.3" r="1.45" fill="none" stroke="#000" stroke-width="0.8"/><polygon points="316.2,220.1 317.9,223.2 314.4,223.2" fill="none" stroke="#000" stroke-width="0.75"/><polygon points="325.9,223.4 327.6,226.5 324.1,226.5" fill="none" stroke="#000" stroke-width="0.75"/><polygon points="360.2,220.4 361.9,223.5 358.4,223.5" fill="none" stroke="#000" stroke-width="0.75"/><circle cx="361.0" cy="226.0" r="1.45" fill="none" stroke="#000" stroke-width="0.8"/><polygon points="361.0,228.6 362.8,231.7 359.2,231.7" fill="none" stroke="#000" stroke-width="0.75"/><polygon points="308.0,227.6 309.8,230.7 306.2,230.7" fill="none" stroke="#000" stroke-width="0.75"/><circle cx="310.2" cy="231.3" r="1.6" fill="#000"/><circle cx="316.2" cy="230.5" r="1.45" fill="none" stroke="#000" stroke-width="0.8"/><polygon points="314.2,233.9 316.1,237.3 312.3,237.3" fill="#000"/><circle cx="355.4" cy="235.4" r="1.6" fill="#000"/><circle cx="361.4" cy="204.4" r="1.45" fill="none" stroke="#000" stroke-width="0.8"/><circle cx="362.9" cy="206.6" r="1.6" fill="#000"/><polygon points="360.2,210.5 362.1,213.9 358.3,213.9" fill="#000"/><circle cx="359.2" cy="214.8" r="1.45" fill="none" stroke="#000" stroke-width="0.8"/><polygon points="376.3,208.3 378.2,211.8 374.4,211.8" fill="#000"/><polygon points="377.8,209.2 379.6,212.3 376.1,212.3" fill="none" stroke="#000" stroke-width="0.75"/><circle cx="382.3" cy="210.1" r="1.6" fill="#000"/><circle cx="384.5" cy="214.1" r="1.45" fill="none" stroke="#000" stroke-width="0.8"/><polygon points="386.8,211.2 388.7,214.7 384.9,214.7" fill="#000"/><polygon points="370.4,215.9 372.1,219.0 368.6,219.0" fill="none" stroke="#000" stroke-width="0.75"/><circle cx="372.6" cy="219.3" r="1.45" fill="none" stroke="#000" stroke-width="0.8"/><circle cx="376.3" cy="221.1" r="1.6" fill="#000"/><circle cx="381.1" cy="217.8" r="1.45" fill="none" stroke="#000" stroke-width="0.8"/><circle cx="382.3" cy="221.6" r="1.6" fill="#000"/><polygon points="393.5,223.4 395.2,226.5 391.8,226.5" fill="none" stroke="#000" stroke-width="0.75"/><circle cx="394.5" cy="226.5" r="1.6" fill="#000"/><polygon points="396.5,220.7 398.2,223.8 394.8,223.8" fill="none" stroke="#000" stroke-width="0.75"/><polygon points="400.2,218.4 402.1,221.8 398.3,221.8" fill="#000"/><circle cx="398.0" cy="232.0" r="1.6" fill="#000"/><circle cx="360.7" cy="225.3" r="1.45" fill="none" stroke="#000" stroke-width="0.8"/><polygon points="363.6,222.6 365.4,225.7 361.9,225.7" fill="none" stroke="#000" stroke-width="0.75"/><circle cx="365.1" cy="226.8" r="1.6" fill="#000"/><circle cx="369.6" cy="228.0" r="1.45" fill="none" stroke="#000" stroke-width="0.8"/><polygon points="377.8,228.6 379.6,231.7 376.1,231.7" fill="none" stroke="#000" stroke-width="0.75"/><polygon points="374.1,233.1 375.9,236.2 372.4,236.2" fill="none" stroke="#000" stroke-width="0.75"/><line x1="302.5" y1="238.4" x2="302.5" y2="151.4" stroke="#3a3a3a" stroke-width="0.9"/><line x1="298.7" y1="238.40" x2="302.5" y2="238.40" stroke="#3a3a3a" stroke-width="0.9"/><text x="293.50" y="238.40" transform="rotate(-90 293.50 238.40)" text-anchor="middle" font-size="5.8" fill="#111" stroke="#111" stroke-width="0.35">0</text><line x1="298.7" y1="216.65" x2="302.5" y2="216.65" stroke="#3a3a3a" stroke-width="0.9"/><text x="293.50" y="216.65" transform="rotate(-90 293.50 216.65)" text-anchor="middle" font-size="5.8" fill="#111" stroke="#111" stroke-width="0.35">4</text><line x1="298.7" y1="194.90" x2="302.5" y2="194.90" stroke="#3a3a3a" stroke-width="0.9"/><text x="293.50" y="194.90" transform="rotate(-90 293.50 194.90)" text-anchor="middle" font-size="5.8" fill="#111" stroke="#111" stroke-width="0.35">8</text><line x1="298.7" y1="173.15" x2="302.5" y2="173.15" stroke="#3a3a3a" stroke-width="0.9"/><text x="293.50" y="173.15" transform="rotate(-90 293.50 173.15)" text-anchor="middle" font-size="5.8" fill="#111" stroke="#111" stroke-width="0.35">12</text><line x1="298.7" y1="151.40" x2="302.5" y2="151.40" stroke="#3a3a3a" stroke-width="0.9"/><text x="293.50" y="151.40" transform="rotate(-90 293.50 151.40)" text-anchor="middle" font-size="5.8" fill="#111" stroke="#111" stroke-width="0.35">16</text><line x1="306.11" y1="242.6" x2="398.09000000000003" y2="242.6" stroke="#3a3a3a" stroke-width="0.9"/><line x1="306.11" y1="242.6" x2="306.11" y2="246.4" stroke="#3a3a3a" stroke-width="0.9"/><text x="306.11" y="255.70" text-anchor="middle" font-size="6.1" fill="#111" stroke="#111" stroke-width="0.4">−3</text><line x1="321.44" y1="242.6" x2="321.44" y2="246.4" stroke="#3a3a3a" stroke-width="0.9"/><text x="321.44" y="255.70" text-anchor="middle" font-size="6.1" fill="#111" stroke="#111" stroke-width="0.4">−2</text><line x1="336.77" y1="242.6" x2="336.77" y2="246.4" stroke="#3a3a3a" stroke-width="0.9"/><text x="336.77" y="255.70" text-anchor="middle" font-size="6.1" fill="#111" stroke="#111" stroke-width="0.4">−1</text><line x1="352.10" y1="242.6" x2="352.10" y2="246.4" stroke="#3a3a3a" stroke-width="0.9"/><text x="352.10" y="255.70" text-anchor="middle" font-size="6.1" fill="#111" stroke="#111" stroke-width="0.4">0</text><line x1="367.43" y1="242.6" x2="367.43" y2="246.4" stroke="#3a3a3a" stroke-width="0.9"/><text x="367.43" y="255.70" text-anchor="middle" font-size="6.1" fill="#111" stroke="#111" stroke-width="0.4">1</text><line x1="382.76" y1="242.6" x2="382.76" y2="246.4" stroke="#3a3a3a" stroke-width="0.9"/><text x="382.76" y="255.70" text-anchor="middle" font-size="6.1" fill="#111" stroke="#111" stroke-width="0.4">2</text><line x1="398.09" y1="242.6" x2="398.09" y2="246.4" stroke="#3a3a3a" stroke-width="0.9"/><text x="398.09" y="255.70" text-anchor="middle" font-size="6.1" fill="#111" stroke="#111" stroke-width="0.4">3</text><text x="299.50" y="141.80" font-size="8" font-weight="bold" fill="#000">f)</text><polygon points="39.20,307.10 39.56,307.66 39.92,308.24 40.28,308.82 40.64,309.40 41.01,309.99 41.37,310.57 41.73,311.14 42.09,311.71 42.45,312.26 42.80,312.79 43.15,313.31 43.50,313.80 43.84,314.27 44.19,314.71 44.53,315.14 44.87,315.56 45.20,315.95 45.54,316.34 45.87,316.72 46.20,317.10 46.53,317.47 46.85,317.85 47.18,318.22 47.50,318.60 47.82,318.98 48.13,319.35 48.43,319.71 48.74,320.07 49.04,320.43 49.34,320.78 49.64,321.14 49.94,321.50 50.25,321.86 50.56,322.23 50.88,322.61 51.20,323.00 51.52,323.39 51.83,323.77 52.12,324.14 52.42,324.51 52.72,324.88 53.03,325.27 53.35,325.67 53.69,326.09 54.06,326.54 54.47,327.02 54.91,327.54 55.40,328.10 55.94,328.71 56.52,329.38 57.14,330.10 57.80,330.85 58.48,331.63 59.18,332.42 59.90,333.23 60.63,334.03 61.36,334.81 62.08,335.58 62.80,336.31 63.50,337.00 64.18,337.65 64.85,338.27 65.52,338.87 66.18,339.45 66.84,340.02 67.51,340.58 68.20,341.14 68.90,341.70 69.63,342.28 70.38,342.86 71.17,343.47 72.00,344.10 72.87,344.76 73.78,345.45 74.73,346.15 75.71,346.87 76.71,347.60 77.72,348.33 78.76,349.06 79.79,349.79 80.83,350.50 81.87,351.19 82.89,351.86 83.90,352.50 84.91,353.13 85.92,353.75 86.95,354.38 87.98,354.99 89.01,355.60 90.04,356.18 91.07,356.75 92.09,357.29 93.09,357.79 94.08,358.27 95.05,358.71 96.00,359.10 96.92,359.45 97.80,359.76 98.66,360.03 99.49,360.26 100.32,360.47 101.14,360.65 101.96,360.81 102.80,360.95 103.65,361.07 104.53,361.19 105.44,361.30 106.40,361.40 107.40,361.49 108.43,361.55 109.49,361.60 110.57,361.62 111.67,361.63 112.78,361.63 113.90,361.62 115.03,361.61 116.16,361.60 117.29,361.59 118.40,361.59 119.50,361.60 119.50,364.40 118.40,364.39 117.29,364.39 116.16,364.40 115.03,364.41 113.90,364.42 112.78,364.43 111.67,364.43 110.57,364.42 109.49,364.40 108.43,364.35 107.40,364.29 106.40,364.20 105.44,364.10 104.53,363.99 103.65,363.87 102.80,363.75 101.96,363.61 101.14,363.45 100.32,363.27 99.49,363.06 98.66,362.83 97.80,362.56 96.92,362.25 96.00,361.90 95.05,361.51 94.08,361.07 93.09,360.59 92.09,360.09 91.07,359.55 90.04,358.98 89.01,358.40 87.98,357.79 86.95,357.18 85.92,356.55 84.91,355.93 83.90,355.30 82.89,354.66 81.87,353.99 80.83,353.30 79.79,352.59 78.76,351.86 77.72,351.13 76.71,350.40 75.71,349.67 74.73,348.95 73.78,348.25 72.87,347.56 72.00,346.90 71.17,346.27 70.38,345.66 69.63,345.08 68.90,344.50 68.20,343.94 67.51,343.38 66.84,342.82 66.18,342.25 65.52,341.67 64.85,341.07 64.18,340.45 63.50,339.80 62.80,339.11 62.08,338.38 61.36,337.61 60.63,336.83 59.90,336.03 59.18,335.22 58.48,334.43 57.80,333.65 57.14,332.90 56.52,332.18 55.94,331.51 55.40,330.90 54.91,330.34 54.47,329.82 54.06,329.34 53.69,328.89 53.35,328.47 53.03,328.07 52.72,327.68 52.42,327.31 52.12,326.94 51.83,326.57 51.52,326.19 51.20,325.80 50.88,325.41 50.56,325.03 50.25,324.66 49.94,324.30 49.64,323.94 49.34,323.58 49.04,323.23 48.74,322.87 48.43,322.51 48.13,322.15 47.82,321.78 47.50,321.40 47.18,321.02 46.85,320.65 46.53,320.27 46.20,319.90 45.87,319.52 45.54,319.14 45.20,318.75 44.87,318.36 44.53,317.94 44.19,317.51 43.84,317.07 43.50,316.60 43.15,316.11 42.80,315.59 42.45,315.06 42.09,314.51 41.73,313.94 41.37,313.37 41.01,312.79 40.64,312.20 40.28,311.62 39.92,311.04 39.56,310.46 39.20,309.90" fill="#dedede" stroke="none"/><polyline points="39.20,307.10 39.56,307.66 39.92,308.24 40.28,308.82 40.64,309.40 41.01,309.99 41.37,310.57 41.73,311.14 42.09,311.71 42.45,312.26 42.80,312.79 43.15,313.31 43.50,313.80 43.84,314.27 44.19,314.71 44.53,315.14 44.87,315.56 45.20,315.95 45.54,316.34 45.87,316.72 46.20,317.10 46.53,317.47 46.85,317.85 47.18,318.22 47.50,318.60 47.82,318.98 48.13,319.35 48.43,319.71 48.74,320.07 49.04,320.43 49.34,320.78 49.64,321.14 49.94,321.50 50.25,321.86 50.56,322.23 50.88,322.61 51.20,323.00 51.52,323.39 51.83,323.77 52.12,324.14 52.42,324.51 52.72,324.88 53.03,325.27 53.35,325.67 53.69,326.09 54.06,326.54 54.47,327.02 54.91,327.54 55.40,328.10 55.94,328.71 56.52,329.38 57.14,330.10 57.80,330.85 58.48,331.63 59.18,332.42 59.90,333.23 60.63,334.03 61.36,334.81 62.08,335.58 62.80,336.31 63.50,337.00 64.18,337.65 64.85,338.27 65.52,338.87 66.18,339.45 66.84,340.02 67.51,340.58 68.20,341.14 68.90,341.70 69.63,342.28 70.38,342.86 71.17,343.47 72.00,344.10 72.87,344.76 73.78,345.45 74.73,346.15 75.71,346.87 76.71,347.60 77.72,348.33 78.76,349.06 79.79,349.79 80.83,350.50 81.87,351.19 82.89,351.86 83.90,352.50 84.91,353.13 85.92,353.75 86.95,354.38 87.98,354.99 89.01,355.60 90.04,356.18 91.07,356.75 92.09,357.29 93.09,357.79 94.08,358.27 95.05,358.71 96.00,359.10 96.92,359.45 97.80,359.76 98.66,360.03 99.49,360.26 100.32,360.47 101.14,360.65 101.96,360.81 102.80,360.95 103.65,361.07 104.53,361.19 105.44,361.30 106.40,361.40 107.40,361.49 108.43,361.55 109.49,361.60 110.57,361.62 111.67,361.63 112.78,361.63 113.90,361.62 115.03,361.61 116.16,361.60 117.29,361.59 118.40,361.59 119.50,361.60" fill="none" stroke="#f01e1e" stroke-width="1.1" stroke-dasharray="2.3,2.3"/><polyline points="39.20,309.90 39.56,310.46 39.92,311.04 40.28,311.62 40.64,312.20 41.01,312.79 41.37,313.37 41.73,313.94 42.09,314.51 42.45,315.06 42.80,315.59 43.15,316.11 43.50,316.60 43.84,317.07 44.19,317.51 44.53,317.94 44.87,318.36 45.20,318.75 45.54,319.14 45.87,319.52 46.20,319.90 46.53,320.27 46.85,320.65 47.18,321.02 47.50,321.40 47.82,321.78 48.13,322.15 48.43,322.51 48.74,322.87 49.04,323.23 49.34,323.58 49.64,323.94 49.94,324.30 50.25,324.66 50.56,325.03 50.88,325.41 51.20,325.80 51.52,326.19 51.83,326.57 52.12,326.94 52.42,327.31 52.72,327.68 53.03,328.07 53.35,328.47 53.69,328.89 54.06,329.34 54.47,329.82 54.91,330.34 55.40,330.90 55.94,331.51 56.52,332.18 57.14,332.90 57.80,333.65 58.48,334.43 59.18,335.22 59.90,336.03 60.63,336.83 61.36,337.61 62.08,338.38 62.80,339.11 63.50,339.80 64.18,340.45 64.85,341.07 65.52,341.67 66.18,342.25 66.84,342.82 67.51,343.38 68.20,343.94 68.90,344.50 69.63,345.08 70.38,345.66 71.17,346.27 72.00,346.90 72.87,347.56 73.78,348.25 74.73,348.95 75.71,349.67 76.71,350.40 77.72,351.13 78.76,351.86 79.79,352.59 80.83,353.30 81.87,353.99 82.89,354.66 83.90,355.30 84.91,355.93 85.92,356.55 86.95,357.18 87.98,357.79 89.01,358.40 90.04,358.98 91.07,359.55 92.09,360.09 93.09,360.59 94.08,361.07 95.05,361.51 96.00,361.90 96.92,362.25 97.80,362.56 98.66,362.83 99.49,363.06 100.32,363.27 101.14,363.45 101.96,363.61 102.80,363.75 103.65,363.87 104.53,363.99 105.44,364.10 106.40,364.20 107.40,364.29 108.43,364.35 109.49,364.40 110.57,364.42 111.67,364.43 112.78,364.43 113.90,364.42 115.03,364.41 116.16,364.40 117.29,364.39 118.40,364.39 119.50,364.40" fill="none" stroke="#f01e1e" stroke-width="1.1" stroke-dasharray="2.3,2.3"/><polyline points="39.20,308.50 39.56,309.06 39.92,309.64 40.28,310.22 40.64,310.80 41.01,311.39 41.37,311.97 41.73,312.54 42.09,313.11 42.45,313.66 42.80,314.19 43.15,314.71 43.50,315.20 43.84,315.67 44.19,316.11 44.53,316.54 44.87,316.96 45.20,317.35 45.54,317.74 45.87,318.12 46.20,318.50 46.53,318.87 46.85,319.25 47.18,319.62 47.50,320.00 47.82,320.38 48.13,320.75 48.43,321.11 48.74,321.47 49.04,321.83 49.34,322.18 49.64,322.54 49.94,322.90 50.25,323.26 50.56,323.63 50.88,324.01 51.20,324.40 51.52,324.79 51.83,325.17 52.12,325.54 52.42,325.91 52.72,326.28 53.03,326.67 53.35,327.07 53.69,327.49 54.06,327.94 54.47,328.42 54.91,328.94 55.40,329.50 55.94,330.11 56.52,330.78 57.14,331.50 57.80,332.25 58.48,333.03 59.18,333.82 59.90,334.63 60.63,335.43 61.36,336.21 62.08,336.98 62.80,337.71 63.50,338.40 64.18,339.05 64.85,339.67 65.52,340.27 66.18,340.85 66.84,341.42 67.51,341.98 68.20,342.54 68.90,343.10 69.63,343.68 70.38,344.26 71.17,344.87 72.00,345.50 72.87,346.16 73.78,346.85 74.73,347.55 75.71,348.27 76.71,349.00 77.72,349.73 78.76,350.46 79.79,351.19 80.83,351.90 81.87,352.59 82.89,353.26 83.90,353.90 84.91,354.53 85.92,355.15 86.95,355.78 87.98,356.39 89.01,357.00 90.04,357.58 91.07,358.15 92.09,358.69 93.09,359.19 94.08,359.67 95.05,360.11 96.00,360.50 96.92,360.85 97.80,361.16 98.66,361.43 99.49,361.66 100.32,361.87 101.14,362.05 101.96,362.21 102.80,362.35 103.65,362.47 104.53,362.59 105.44,362.70 106.40,362.80 107.40,362.89 108.43,362.95 109.49,363.00 110.57,363.02 111.67,363.03 112.78,363.03 113.90,363.02 115.03,363.01 116.16,363.00 117.29,362.99 118.40,362.99 119.50,363.00" fill="none" stroke="#1c1c1c" stroke-width="1.15"/><circle cx="45.2" cy="295.6" r="1.6" fill="#000"/><polygon points="45.2,298.7 47.0,301.8 43.5,301.8" fill="none" stroke="#000" stroke-width="0.75"/><polygon points="40.8,308.6 42.5,311.7 39.0,311.7" fill="none" stroke="#000" stroke-width="0.75"/><circle cx="39.2" cy="315.9" r="1.45" fill="none" stroke="#000" stroke-width="0.8"/><circle cx="42.5" cy="316.4" r="1.6" fill="#000"/><polygon points="60.1,316.1 61.9,319.2 58.4,319.2" fill="none" stroke="#000" stroke-width="0.75"/><circle cx="43.3" cy="323.0" r="1.45" fill="none" stroke="#000" stroke-width="0.8"/><polygon points="52.4,321.2 54.3,324.7 50.5,324.7" fill="#000"/><circle cx="58.3" cy="325.1" r="1.6" fill="#000"/><polygon points="67.6,321.7 69.5,325.2 65.7,325.2" fill="#000"/><polygon points="46.4,326.0 48.1,329.1 44.6,329.1" fill="none" stroke="#000" stroke-width="0.75"/><circle cx="47.9" cy="326.7" r="1.6" fill="#000"/><circle cx="60.7" cy="332.9" r="1.6" fill="#000"/><circle cx="63.9" cy="334.2" r="1.45" fill="none" stroke="#000" stroke-width="0.8"/><circle cx="52.0" cy="335.8" r="1.45" fill="none" stroke="#000" stroke-width="0.8"/><polygon points="60.4,335.2 62.3,338.7 58.5,338.7" fill="#000"/><circle cx="70.1" cy="336.3" r="1.6" fill="#000"/><polygon points="77.3,331.0 79.0,334.1 75.5,334.1" fill="none" stroke="#000" stroke-width="0.75"/><polygon points="76.9,333.3 78.8,336.8 75.0,336.8" fill="#000"/><polygon points="81.5,335.4 83.2,338.5 79.8,338.5" fill="none" stroke="#000" stroke-width="0.75"/><circle cx="65.9" cy="351.5" r="1.6" fill="#000"/><polygon points="67.5,355.8 69.2,358.9 65.8,358.9" fill="none" stroke="#000" stroke-width="0.75"/><circle cx="69.0" cy="348.4" r="1.6" fill="#000"/><circle cx="70.8" cy="349.0" r="1.6" fill="#000"/><circle cx="75.8" cy="347.1" r="1.45" fill="none" stroke="#000" stroke-width="0.8"/><polygon points="81.4,344.0 83.2,347.1 79.7,347.1" fill="none" stroke="#000" stroke-width="0.75"/><circle cx="82.7" cy="347.8" r="1.6" fill="#000"/><circle cx="74.0" cy="352.7" r="1.45" fill="none" stroke="#000" stroke-width="0.8"/><circle cx="77.1" cy="354.0" r="1.6" fill="#000"/><circle cx="78.9" cy="355.9" r="1.6" fill="#000"/><circle cx="80.2" cy="357.1" r="1.6" fill="#000"/><circle cx="78.3" cy="358.3" r="1.45" fill="none" stroke="#000" stroke-width="0.8"/><circle cx="73.3" cy="364.6" r="1.45" fill="none" stroke="#000" stroke-width="0.8"/><circle cx="76.4" cy="363.1" r="1.45" fill="none" stroke="#000" stroke-width="0.8"/><circle cx="79.5" cy="361.4" r="1.6" fill="#000"/><polygon points="84.5,360.6 86.4,364.1 82.6,364.1" fill="#000"/><circle cx="82.7" cy="357.1" r="1.6" fill="#000"/><circle cx="86.1" cy="355.9" r="1.6" fill="#000"/><polygon points="90.7,350.8 92.5,353.9 89.0,353.9" fill="none" stroke="#000" stroke-width="0.75"/><polygon points="93.2,348.8 95.1,352.2 91.3,352.2" fill="#000"/><circle cx="92.6" cy="355.2" r="1.45" fill="none" stroke="#000" stroke-width="0.8"/><circle cx="90.1" cy="359.0" r="1.6" fill="#000"/><circle cx="92.6" cy="360.8" r="1.6" fill="#000"/><circle cx="95.7" cy="360.8" r="1.6" fill="#000"/><polygon points="97.6,362.0 99.3,365.1 95.8,365.1" fill="none" stroke="#000" stroke-width="0.75"/><circle cx="100.1" cy="356.5" r="1.45" fill="none" stroke="#000" stroke-width="0.8"/><circle cx="102.6" cy="358.3" r="1.6" fill="#000"/><polygon points="105.7,351.5 107.5,354.6 104.0,354.6" fill="none" stroke="#000" stroke-width="0.75"/><circle cx="106.3" cy="355.6" r="1.6" fill="#000"/><polygon points="106.0,364.3 107.9,367.8 104.1,367.8" fill="#000"/><polygon points="111.3,361.4 113.0,364.5 109.5,364.5" fill="none" stroke="#000" stroke-width="0.75"/><circle cx="111.0" cy="369.5" r="1.45" fill="none" stroke="#000" stroke-width="0.8"/><circle cx="113.1" cy="366.4" r="1.6" fill="#000"/><circle cx="113.1" cy="363.9" r="1.6" fill="#000"/><circle cx="95.5" cy="359.9" r="1.6" fill="#000"/><circle cx="97.0" cy="361.9" r="1.6" fill="#000"/><polygon points="98.0,362.5 99.8,365.6 96.2,365.6" fill="none" stroke="#000" stroke-width="0.75"/><polygon points="105.7,363.8 107.6,367.2 103.8,367.2" fill="#000"/><circle cx="111.9" cy="364.9" r="1.6" fill="#000"/><circle cx="114.9" cy="365.4" r="1.6" fill="#000"/><polygon points="119.7,359.8 121.5,362.9 118.0,362.9" fill="none" stroke="#000" stroke-width="0.75"/><circle cx="110.9" cy="369.8" r="1.45" fill="none" stroke="#000" stroke-width="0.8"/><circle cx="115.9" cy="368.3" r="1.45" fill="none" stroke="#000" stroke-width="0.8"/><circle cx="113.4" cy="367.8" r="1.6" fill="#000"/><circle cx="42.0" cy="312.5" r="1.6" fill="#000"/><line x1="33.2" y1="372.9" x2="33.2" y2="296.2" stroke="#3a3a3a" stroke-width="0.9"/><line x1="29.400000000000002" y1="372.90" x2="33.2" y2="372.90" stroke="#3a3a3a" stroke-width="0.9"/><text x="24.20" y="372.90" transform="rotate(-90 24.20 372.90)" text-anchor="middle" font-size="5.8" fill="#111" stroke="#111" stroke-width="0.35">1</text><line x1="29.400000000000002" y1="347.33" x2="33.2" y2="347.33" stroke="#3a3a3a" stroke-width="0.9"/><text x="24.20" y="347.33" transform="rotate(-90 24.20 347.33)" text-anchor="middle" font-size="5.8" fill="#111" stroke="#111" stroke-width="0.35">3</text><line x1="29.400000000000002" y1="321.77" x2="33.2" y2="321.77" stroke="#3a3a3a" stroke-width="0.9"/><text x="24.20" y="321.77" transform="rotate(-90 24.20 321.77)" text-anchor="middle" font-size="5.8" fill="#111" stroke="#111" stroke-width="0.35">5</text><line x1="29.400000000000002" y1="296.20" x2="33.2" y2="296.20" stroke="#3a3a3a" stroke-width="0.9"/><text x="24.20" y="296.20" transform="rotate(-90 24.20 296.20)" text-anchor="middle" font-size="5.8" fill="#111" stroke="#111" stroke-width="0.35">7</text><line x1="37.35999999999999" y1="377.6" x2="129.34" y2="377.6" stroke="#3a3a3a" stroke-width="0.9"/><line x1="37.36" y1="377.6" x2="37.36" y2="381.40000000000003" stroke="#3a3a3a" stroke-width="0.9"/><text x="37.36" y="390.40" text-anchor="middle" font-size="6.1" fill="#111" stroke="#111" stroke-width="0.4">−3</text><line x1="52.69" y1="377.6" x2="52.69" y2="381.40000000000003" stroke="#3a3a3a" stroke-width="0.9"/><text x="52.69" y="390.40" text-anchor="middle" font-size="6.1" fill="#111" stroke="#111" stroke-width="0.4">−2</text><line x1="68.02" y1="377.6" x2="68.02" y2="381.40000000000003" stroke="#3a3a3a" stroke-width="0.9"/><text x="68.02" y="390.40" text-anchor="middle" font-size="6.1" fill="#111" stroke="#111" stroke-width="0.4">−1</text><line x1="83.35" y1="377.6" x2="83.35" y2="381.40000000000003" stroke="#3a3a3a" stroke-width="0.9"/><text x="83.35" y="390.40" text-anchor="middle" font-size="6.1" fill="#111" stroke="#111" stroke-width="0.4">0</text><line x1="98.68" y1="377.6" x2="98.68" y2="381.40000000000003" stroke="#3a3a3a" stroke-width="0.9"/><text x="98.68" y="390.40" text-anchor="middle" font-size="6.1" fill="#111" stroke="#111" stroke-width="0.4">1</text><line x1="114.01" y1="377.6" x2="114.01" y2="381.40000000000003" stroke="#3a3a3a" stroke-width="0.9"/><text x="114.01" y="390.40" text-anchor="middle" font-size="6.1" fill="#111" stroke="#111" stroke-width="0.4">2</text><line x1="129.34" y1="377.6" x2="129.34" y2="381.40000000000003" stroke="#3a3a3a" stroke-width="0.9"/><text x="129.34" y="390.40" text-anchor="middle" font-size="6.1" fill="#111" stroke="#111" stroke-width="0.4">3</text><text x="30.20" y="276.40" font-size="8" font-weight="bold" fill="#000">g)</text><text x="0" y="0" transform="translate(84.85 399.6) scale(1 1.13)" text-anchor="middle" font-size="8" font-weight="bold" fill="#000" stroke="#000" stroke-width="0.2">Air evaporative demand</text><polygon points="170.00,298.30 170.49,298.75 170.95,299.19 171.41,299.61 171.85,300.03 172.30,300.44 172.75,300.86 173.22,301.30 173.70,301.75 174.22,302.23 174.77,302.75 175.36,303.30 176.00,303.90 176.69,304.55 177.44,305.26 178.23,306.00 179.06,306.78 179.91,307.59 180.78,308.41 181.67,309.25 182.56,310.09 183.44,310.92 184.32,311.74 185.17,312.53 186.00,313.30 186.81,314.05 187.61,314.80 188.41,315.55 189.20,316.29 189.99,317.03 190.78,317.76 191.57,318.48 192.35,319.19 193.14,319.89 193.92,320.57 194.71,321.25 195.50,321.90 196.29,322.54 197.09,323.17 197.89,323.79 198.69,324.39 199.49,324.99 200.29,325.57 201.08,326.14 201.88,326.70 202.67,327.24 203.45,327.77 204.23,328.29 205.00,328.80 205.75,329.29 206.46,329.74 207.15,330.18 207.82,330.60 208.49,331.01 209.17,331.41 209.86,331.80 210.58,332.20 211.33,332.60 212.13,333.02 212.98,333.45 213.90,333.90 214.89,334.38 215.96,334.88 217.09,335.40 218.26,335.93 219.47,336.47 220.70,337.01 221.94,337.54 223.19,338.06 224.41,338.56 225.62,339.04 226.78,339.49 227.90,339.90 228.97,340.28 230.01,340.65 231.02,341.00 232.01,341.33 232.99,341.64 233.96,341.93 234.93,342.21 235.90,342.46 236.89,342.70 237.90,342.92 238.93,343.12 240.00,343.30 241.10,343.46 242.22,343.60 243.36,343.72 244.51,343.82 245.68,343.90 246.86,343.96 248.05,344.01 249.23,344.04 250.41,344.05 251.59,344.05 252.75,344.03 253.90,344.00 255.04,343.95 256.17,343.87 257.30,343.76 258.43,343.64 259.55,343.50 260.67,343.34 261.80,343.18 262.91,343.02 264.03,342.85 265.15,342.69 266.28,342.54 267.40,342.40 267.40,343.80 266.28,343.94 265.15,344.09 264.03,344.25 262.91,344.42 261.80,344.58 260.67,344.74 259.55,344.90 258.43,345.04 257.30,345.16 256.17,345.27 255.04,345.35 253.90,345.40 252.75,345.43 251.59,345.45 250.41,345.45 249.23,345.44 248.05,345.41 246.86,345.36 245.68,345.30 244.51,345.22 243.36,345.12 242.22,345.00 241.10,344.86 240.00,344.70 238.93,344.52 237.90,344.32 236.89,344.10 235.90,343.86 234.93,343.61 233.96,343.33 232.99,343.04 232.01,342.73 231.02,342.40 230.01,342.05 228.97,341.68 227.90,341.30 226.78,340.89 225.62,340.44 224.41,339.96 223.19,339.46 221.94,338.94 220.70,338.41 219.47,337.87 218.26,337.33 217.09,336.80 215.96,336.28 214.89,335.78 213.90,335.30 212.98,334.85 212.13,334.42 211.33,334.00 210.58,333.60 209.86,333.20 209.17,332.81 208.49,332.41 207.82,332.00 207.15,331.58 206.46,331.14 205.75,330.69 205.00,330.20 204.23,329.69 203.45,329.17 202.67,328.64 201.88,328.10 201.08,327.54 200.29,326.97 199.49,326.39 198.69,325.79 197.89,325.19 197.09,324.57 196.29,323.94 195.50,323.30 194.71,322.65 193.92,321.97 193.14,321.29 192.35,320.59 191.57,319.88 190.78,319.16 189.99,318.43 189.20,317.69 188.41,316.95 187.61,316.20 186.81,315.45 186.00,314.70 185.17,313.93 184.32,313.14 183.44,312.32 182.56,311.49 181.67,310.65 180.78,309.81 179.91,308.99 179.06,308.18 178.23,307.40 177.44,306.66 176.69,305.95 176.00,305.30 175.36,304.70 174.77,304.15 174.22,303.63 173.70,303.15 173.22,302.70 172.75,302.26 172.30,301.84 171.85,301.43 171.41,301.01 170.95,300.59 170.49,300.15 170.00,299.70" fill="#dedede" stroke="none"/><polyline points="170.00,298.30 170.49,298.75 170.95,299.19 171.41,299.61 171.85,300.03 172.30,300.44 172.75,300.86 173.22,301.30 173.70,301.75 174.22,302.23 174.77,302.75 175.36,303.30 176.00,303.90 176.69,304.55 177.44,305.26 178.23,306.00 179.06,306.78 179.91,307.59 180.78,308.41 181.67,309.25 182.56,310.09 183.44,310.92 184.32,311.74 185.17,312.53 186.00,313.30 186.81,314.05 187.61,314.80 188.41,315.55 189.20,316.29 189.99,317.03 190.78,317.76 191.57,318.48 192.35,319.19 193.14,319.89 193.92,320.57 194.71,321.25 195.50,321.90 196.29,322.54 197.09,323.17 197.89,323.79 198.69,324.39 199.49,324.99 200.29,325.57 201.08,326.14 201.88,326.70 202.67,327.24 203.45,327.77 204.23,328.29 205.00,328.80 205.75,329.29 206.46,329.74 207.15,330.18 207.82,330.60 208.49,331.01 209.17,331.41 209.86,331.80 210.58,332.20 211.33,332.60 212.13,333.02 212.98,333.45 213.90,333.90 214.89,334.38 215.96,334.88 217.09,335.40 218.26,335.93 219.47,336.47 220.70,337.01 221.94,337.54 223.19,338.06 224.41,338.56 225.62,339.04 226.78,339.49 227.90,339.90 228.97,340.28 230.01,340.65 231.02,341.00 232.01,341.33 232.99,341.64 233.96,341.93 234.93,342.21 235.90,342.46 236.89,342.70 237.90,342.92 238.93,343.12 240.00,343.30 241.10,343.46 242.22,343.60 243.36,343.72 244.51,343.82 245.68,343.90 246.86,343.96 248.05,344.01 249.23,344.04 250.41,344.05 251.59,344.05 252.75,344.03 253.90,344.00 255.04,343.95 256.17,343.87 257.30,343.76 258.43,343.64 259.55,343.50 260.67,343.34 261.80,343.18 262.91,343.02 264.03,342.85 265.15,342.69 266.28,342.54 267.40,342.40" fill="none" stroke="#f01e1e" stroke-width="1.2" stroke-dasharray="2.3,2.3"/><polyline points="170.00,299.70 170.49,300.15 170.95,300.59 171.41,301.01 171.85,301.43 172.30,301.84 172.75,302.26 173.22,302.70 173.70,303.15 174.22,303.63 174.77,304.15 175.36,304.70 176.00,305.30 176.69,305.95 177.44,306.66 178.23,307.40 179.06,308.18 179.91,308.99 180.78,309.81 181.67,310.65 182.56,311.49 183.44,312.32 184.32,313.14 185.17,313.93 186.00,314.70 186.81,315.45 187.61,316.20 188.41,316.95 189.20,317.69 189.99,318.43 190.78,319.16 191.57,319.88 192.35,320.59 193.14,321.29 193.92,321.97 194.71,322.65 195.50,323.30 196.29,323.94 197.09,324.57 197.89,325.19 198.69,325.79 199.49,326.39 200.29,326.97 201.08,327.54 201.88,328.10 202.67,328.64 203.45,329.17 204.23,329.69 205.00,330.20 205.75,330.69 206.46,331.14 207.15,331.58 207.82,332.00 208.49,332.41 209.17,332.81 209.86,333.20 210.58,333.60 211.33,334.00 212.13,334.42 212.98,334.85 213.90,335.30 214.89,335.78 215.96,336.28 217.09,336.80 218.26,337.33 219.47,337.87 220.70,338.41 221.94,338.94 223.19,339.46 224.41,339.96 225.62,340.44 226.78,340.89 227.90,341.30 228.97,341.68 230.01,342.05 231.02,342.40 232.01,342.73 232.99,343.04 233.96,343.33 234.93,343.61 235.90,343.86 236.89,344.10 237.90,344.32 238.93,344.52 240.00,344.70 241.10,344.86 242.22,345.00 243.36,345.12 244.51,345.22 245.68,345.30 246.86,345.36 248.05,345.41 249.23,345.44 250.41,345.45 251.59,345.45 252.75,345.43 253.90,345.40 255.04,345.35 256.17,345.27 257.30,345.16 258.43,345.04 259.55,344.90 260.67,344.74 261.80,344.58 262.91,344.42 264.03,344.25 265.15,344.09 266.28,343.94 267.40,343.80" fill="none" stroke="#f01e1e" stroke-width="1.2" stroke-dasharray="2.3,2.3"/><polyline points="170.00,299.00 170.49,299.45 170.95,299.89 171.41,300.31 171.85,300.73 172.30,301.14 172.75,301.56 173.22,302.00 173.70,302.45 174.22,302.93 174.77,303.45 175.36,304.00 176.00,304.60 176.69,305.25 177.44,305.96 178.23,306.70 179.06,307.48 179.91,308.29 180.78,309.11 181.67,309.95 182.56,310.79 183.44,311.62 184.32,312.44 185.17,313.23 186.00,314.00 186.81,314.75 187.61,315.50 188.41,316.25 189.20,316.99 189.99,317.73 190.78,318.46 191.57,319.18 192.35,319.89 193.14,320.59 193.92,321.27 194.71,321.95 195.50,322.60 196.29,323.24 197.09,323.87 197.89,324.49 198.69,325.09 199.49,325.69 200.29,326.27 201.08,326.84 201.88,327.40 202.67,327.94 203.45,328.47 204.23,328.99 205.00,329.50 205.75,329.99 206.46,330.44 207.15,330.88 207.82,331.30 208.49,331.71 209.17,332.11 209.86,332.50 210.58,332.90 211.33,333.30 212.13,333.72 212.98,334.15 213.90,334.60 214.89,335.08 215.96,335.58 217.09,336.10 218.26,336.63 219.47,337.17 220.70,337.71 221.94,338.24 223.19,338.76 224.41,339.26 225.62,339.74 226.78,340.19 227.90,340.60 228.97,340.98 230.01,341.35 231.02,341.70 232.01,342.03 232.99,342.34 233.96,342.63 234.93,342.91 235.90,343.16 236.89,343.40 237.90,343.62 238.93,343.82 240.00,344.00 241.10,344.16 242.22,344.30 243.36,344.42 244.51,344.52 245.68,344.60 246.86,344.66 248.05,344.71 249.23,344.74 250.41,344.75 251.59,344.75 252.75,344.73 253.90,344.70 255.04,344.65 256.17,344.57 257.30,344.46 258.43,344.34 259.55,344.20 260.67,344.04 261.80,343.88 262.91,343.72 264.03,343.55 265.15,343.39 266.28,343.24 267.40,343.10" fill="none" stroke="#1c1c1c" stroke-width="0.95"/><circle cx="174.8" cy="287.2" r="1.6" fill="#000"/><polygon points="180.4,294.9 182.2,298.0 178.7,298.0" fill="none" stroke="#000" stroke-width="0.75"/><polygon points="181.7,293.0 183.4,296.1 179.9,296.1" fill="none" stroke="#000" stroke-width="0.75"/><polygon points="183.2,293.4 185.1,296.9 181.3,296.9" fill="#000"/><circle cx="192.9" cy="301.1" r="1.45" fill="none" stroke="#000" stroke-width="0.8"/><polygon points="176.7,311.2 178.6,314.7 174.8,314.7" fill="#000"/><circle cx="169.9" cy="320.4" r="1.45" fill="none" stroke="#000" stroke-width="0.8"/><polygon points="173.6,322.9 175.3,326.0 171.8,326.0" fill="none" stroke="#000" stroke-width="0.75"/><polygon points="188.5,318.1 190.2,321.2 186.8,321.2" fill="none" stroke="#000" stroke-width="0.75"/><polygon points="187.7,321.9 189.4,325.0 185.9,325.0" fill="none" stroke="#000" stroke-width="0.75"/><polygon points="191.0,319.9 192.9,323.4 189.1,323.4" fill="#000"/><circle cx="192.3" cy="321.3" r="1.6" fill="#000"/><circle cx="197.2" cy="319.8" r="1.6" fill="#000"/><circle cx="191.6" cy="327.9" r="1.45" fill="none" stroke="#000" stroke-width="0.8"/><circle cx="196.6" cy="325.7" r="1.45" fill="none" stroke="#000" stroke-width="0.8"/><circle cx="200.3" cy="325.3" r="1.6" fill="#000"/><circle cx="199.7" cy="328.2" r="1.45" fill="none" stroke="#000" stroke-width="0.8"/><circle cx="204.1" cy="327.8" r="1.6" fill="#000"/><polygon points="203.1,333.2 205.0,336.7 201.2,336.7" fill="#000"/><polygon points="214.3,329.6 216.1,332.7 212.6,332.7" fill="none" stroke="#000" stroke-width="0.75"/><circle cx="214.6" cy="334.7" r="1.6" fill="#000"/><circle cx="217.1" cy="335.9" r="1.6" fill="#000"/><circle cx="217.1" cy="345.2" r="1.45" fill="none" stroke="#000" stroke-width="0.8"/><polygon points="224.1,322.8 225.8,325.9 222.3,325.9" fill="none" stroke="#000" stroke-width="0.75"/><polygon points="231.8,326.3 233.7,329.8 229.9,329.8" fill="#000"/><polygon points="245.0,327.8 246.8,330.9 243.2,330.9" fill="none" stroke="#000" stroke-width="0.75"/><polygon points="214.2,329.9 215.9,333.0 212.4,333.0" fill="none" stroke="#000" stroke-width="0.75"/><polygon points="220.1,327.8 221.8,330.9 218.3,330.9" fill="none" stroke="#000" stroke-width="0.75"/><polygon points="221.0,330.9 222.9,334.4 219.1,334.4" fill="#000"/><polygon points="221.6,332.2 223.5,335.7 219.7,335.7" fill="#000"/><circle cx="216.0" cy="335.5" r="1.6" fill="#000"/><circle cx="219.1" cy="336.7" r="1.6" fill="#000"/><circle cx="217.9" cy="338.6" r="1.45" fill="none" stroke="#000" stroke-width="0.8"/><circle cx="226.0" cy="334.3" r="1.6" fill="#000"/><circle cx="227.2" cy="336.1" r="1.6" fill="#000"/><circle cx="227.9" cy="337.4" r="1.6" fill="#000"/><polygon points="221.6,338.6 223.3,341.7 219.8,341.7" fill="none" stroke="#000" stroke-width="0.75"/><circle cx="223.5" cy="341.1" r="1.45" fill="none" stroke="#000" stroke-width="0.8"/><polygon points="232.8,336.7 234.6,339.8 231.1,339.8" fill="none" stroke="#000" stroke-width="0.75"/><circle cx="229.1" cy="341.1" r="1.6" fill="#000"/><polygon points="237.6,338.4 239.5,341.9 235.7,341.9" fill="#000"/><polygon points="240.9,337.3 242.7,340.4 239.2,340.4" fill="none" stroke="#000" stroke-width="0.75"/><polygon points="243.4,335.3 245.3,338.8 241.5,338.8" fill="#000"/><circle cx="246.5" cy="341.1" r="1.6" fill="#000"/><circle cx="217.7" cy="344.8" r="1.45" fill="none" stroke="#000" stroke-width="0.8"/><circle cx="221.4" cy="346.1" r="1.45" fill="none" stroke="#000" stroke-width="0.8"/><circle cx="227.9" cy="346.1" r="1.45" fill="none" stroke="#000" stroke-width="0.8"/><circle cx="231.6" cy="345.4" r="1.45" fill="none" stroke="#000" stroke-width="0.8"/><circle cx="236.6" cy="346.7" r="1.45" fill="none" stroke="#000" stroke-width="0.8"/><circle cx="240.3" cy="346.7" r="1.45" fill="none" stroke="#000" stroke-width="0.8"/><polygon points="245.3,346.5 247.2,350.0 243.4,350.0" fill="#000"/><circle cx="227.2" cy="353.5" r="1.45" fill="none" stroke="#000" stroke-width="0.8"/><circle cx="230.1" cy="352.0" r="1.45" fill="none" stroke="#000" stroke-width="0.8"/><polygon points="235.9,350.4 237.7,353.5 234.2,353.5" fill="none" stroke="#000" stroke-width="0.75"/><polygon points="225.1,356.2 227.0,359.7 223.2,359.7" fill="#000"/><polygon points="232.3,326.3 234.2,329.8 230.4,329.8" fill="#000"/><polygon points="245.3,328.3 247.1,331.4 243.6,331.4" fill="none" stroke="#000" stroke-width="0.75"/><polygon points="250.5,333.1 252.4,336.6 248.6,336.6" fill="#000"/><polygon points="260.4,332.5 262.3,336.0 258.5,336.0" fill="#000"/><circle cx="267.4" cy="339.5" r="1.45" fill="none" stroke="#000" stroke-width="0.8"/><polygon points="233.0,337.0 234.8,340.1 231.2,340.1" fill="none" stroke="#000" stroke-width="0.75"/><polygon points="237.3,338.0 239.2,341.5 235.4,341.5" fill="#000"/><polygon points="243.5,335.6 245.4,339.1 241.6,339.1" fill="#000"/><polygon points="241.6,337.0 243.3,340.1 239.8,340.1" fill="none" stroke="#000" stroke-width="0.75"/><circle cx="246.6" cy="340.8" r="1.6" fill="#000"/><polygon points="250.3,339.5 252.1,342.6 248.6,342.6" fill="none" stroke="#000" stroke-width="0.75"/><circle cx="241.0" cy="347.6" r="1.45" fill="none" stroke="#000" stroke-width="0.8"/><circle cx="244.1" cy="346.9" r="1.45" fill="none" stroke="#000" stroke-width="0.8"/><circle cx="246.6" cy="349.2" r="1.6" fill="#000"/><polygon points="244.7,347.3 246.6,350.8 242.8,350.8" fill="#000"/><circle cx="252.8" cy="345.1" r="1.6" fill="#000"/><polygon points="259.6,346.7 261.5,350.2 257.7,350.2" fill="#000"/><polygon points="261.2,347.8 262.9,350.9 259.4,350.9" fill="none" stroke="#000" stroke-width="0.75"/><circle cx="259.6" cy="353.1" r="1.6" fill="#000"/><circle cx="241.6" cy="365.3" r="1.6" fill="#000"/><line x1="168.3" y1="362.9" x2="168.3" y2="283.7" stroke="#3a3a3a" stroke-width="0.9"/><line x1="164.5" y1="362.90" x2="168.3" y2="362.90" stroke="#3a3a3a" stroke-width="0.9"/><text x="159.30" y="362.90" transform="rotate(-90 159.30 362.90)" text-anchor="middle" font-size="5.8" fill="#111" stroke="#111" stroke-width="0.35">−1</text><line x1="164.5" y1="343.10" x2="168.3" y2="343.10" stroke="#3a3a3a" stroke-width="0.9"/><text x="159.30" y="343.10" transform="rotate(-90 159.30 343.10)" text-anchor="middle" font-size="5.8" fill="#111" stroke="#111" stroke-width="0.35">1</text><line x1="164.5" y1="323.30" x2="168.3" y2="323.30" stroke="#3a3a3a" stroke-width="0.9"/><text x="159.30" y="323.30" transform="rotate(-90 159.30 323.30)" text-anchor="middle" font-size="5.8" fill="#111" stroke="#111" stroke-width="0.35">3</text><line x1="164.5" y1="303.50" x2="168.3" y2="303.50" stroke="#3a3a3a" stroke-width="0.9"/><text x="159.30" y="303.50" transform="rotate(-90 159.30 303.50)" text-anchor="middle" font-size="5.8" fill="#111" stroke="#111" stroke-width="0.35">5</text><line x1="164.5" y1="283.70" x2="168.3" y2="283.70" stroke="#3a3a3a" stroke-width="0.9"/><text x="159.30" y="283.70" transform="rotate(-90 159.30 283.70)" text-anchor="middle" font-size="5.8" fill="#111" stroke="#111" stroke-width="0.35">7</text><line x1="171.70999999999998" y1="377.6" x2="263.69" y2="377.6" stroke="#3a3a3a" stroke-width="0.9"/><line x1="171.71" y1="377.6" x2="171.71" y2="381.40000000000003" stroke="#3a3a3a" stroke-width="0.9"/><text x="171.71" y="390.40" text-anchor="middle" font-size="6.1" fill="#111" stroke="#111" stroke-width="0.4">−3</text><line x1="187.04" y1="377.6" x2="187.04" y2="381.40000000000003" stroke="#3a3a3a" stroke-width="0.9"/><text x="187.04" y="390.40" text-anchor="middle" font-size="6.1" fill="#111" stroke="#111" stroke-width="0.4">−2</text><line x1="202.37" y1="377.6" x2="202.37" y2="381.40000000000003" stroke="#3a3a3a" stroke-width="0.9"/><text x="202.37" y="390.40" text-anchor="middle" font-size="6.1" fill="#111" stroke="#111" stroke-width="0.4">−1</text><line x1="217.70" y1="377.6" x2="217.70" y2="381.40000000000003" stroke="#3a3a3a" stroke-width="0.9"/><text x="217.70" y="390.40" text-anchor="middle" font-size="6.1" fill="#111" stroke="#111" stroke-width="0.4">0</text><line x1="233.03" y1="377.6" x2="233.03" y2="381.40000000000003" stroke="#3a3a3a" stroke-width="0.9"/><text x="233.03" y="390.40" text-anchor="middle" font-size="6.1" fill="#111" stroke="#111" stroke-width="0.4">1</text><line x1="248.36" y1="377.6" x2="248.36" y2="381.40000000000003" stroke="#3a3a3a" stroke-width="0.9"/><text x="248.36" y="390.40" text-anchor="middle" font-size="6.1" fill="#111" stroke="#111" stroke-width="0.4">2</text><line x1="263.69" y1="377.6" x2="263.69" y2="381.40000000000003" stroke="#3a3a3a" stroke-width="0.9"/><text x="263.69" y="390.40" text-anchor="middle" font-size="6.1" fill="#111" stroke="#111" stroke-width="0.4">3</text><text x="165.30" y="276.40" font-size="8" font-weight="bold" fill="#000">h)</text><text x="0" y="0" transform="translate(219.20 399.6) scale(1 1.13)" text-anchor="middle" font-size="8" font-weight="bold" fill="#000" stroke="#000" stroke-width="0.2">Air evaporative demand</text><polygon points="306.00,300.03 307.60,301.55 309.19,303.03 310.79,304.48 312.39,305.90 313.98,307.29 315.58,308.64 317.18,309.97 318.77,311.27 320.37,312.54 321.97,313.79 323.56,315.02 325.16,316.21 326.76,317.37 328.35,318.50 329.95,319.59 331.55,320.65 333.14,321.68 334.74,322.65 336.34,323.59 337.93,324.50 339.53,325.37 341.13,326.20 342.72,327.00 344.32,327.77 345.92,328.50 347.51,329.19 349.11,329.86 350.71,330.48 352.30,331.08 353.90,331.64 355.49,332.17 357.09,332.67 358.69,333.14 360.28,333.58 361.88,333.99 363.48,334.36 365.07,334.71 366.67,335.03 368.27,335.32 369.86,335.59 371.46,335.83 373.06,336.06 374.65,336.27 376.25,336.46 377.85,336.62 379.44,336.77 381.04,336.89 382.64,337.00 384.23,337.09 385.83,337.16 387.43,337.21 389.02,337.25 390.62,337.28 392.22,337.30 393.81,337.31 395.41,337.31 397.01,337.30 398.60,337.28 400.20,337.27 400.20,342.27 398.60,342.28 397.01,342.30 395.41,342.31 393.81,342.31 392.22,342.30 390.62,342.28 389.02,342.25 387.43,342.21 385.83,342.16 384.23,342.09 382.64,342.00 381.04,341.89 379.44,341.77 377.85,341.62 376.25,341.46 374.65,341.27 373.06,341.06 371.46,340.82 369.86,340.53 368.27,340.23 366.67,339.89 365.07,339.53 363.48,339.14 361.88,338.72 360.28,338.27 358.69,337.79 357.09,337.28 355.49,336.74 353.90,336.16 352.30,335.56 350.71,334.92 349.11,334.25 347.51,333.54 345.92,332.80 344.32,332.03 342.72,331.22 341.13,330.38 339.53,329.51 337.93,328.61 336.34,327.66 334.74,326.69 333.14,325.68 331.55,324.65 329.95,323.59 328.35,322.50 326.76,321.37 325.16,320.21 323.56,319.02 321.97,317.79 320.37,316.52 318.77,315.21 317.18,313.86 315.58,312.48 313.98,311.07 312.39,309.63 310.79,308.16 309.19,306.67 307.60,305.15 306.00,303.63" fill="#dedede" stroke="none"/><polyline points="306.00,300.03 307.60,301.55 309.19,303.03 310.79,304.48 312.39,305.90 313.98,307.29 315.58,308.64 317.18,309.97 318.77,311.27 320.37,312.54 321.97,313.79 323.56,315.02 325.16,316.21 326.76,317.37 328.35,318.50 329.95,319.59 331.55,320.65 333.14,321.68 334.74,322.65 336.34,323.59 337.93,324.50 339.53,325.37 341.13,326.20 342.72,327.00 344.32,327.77 345.92,328.50 347.51,329.19 349.11,329.86 350.71,330.48 352.30,331.08 353.90,331.64 355.49,332.17 357.09,332.67 358.69,333.14 360.28,333.58 361.88,333.99 363.48,334.36 365.07,334.71 366.67,335.03 368.27,335.32 369.86,335.59 371.46,335.83 373.06,336.06 374.65,336.27 376.25,336.46 377.85,336.62 379.44,336.77 381.04,336.89 382.64,337.00 384.23,337.09 385.83,337.16 387.43,337.21 389.02,337.25 390.62,337.28 392.22,337.30 393.81,337.31 395.41,337.31 397.01,337.30 398.60,337.28 400.20,337.27" fill="none" stroke="#f01e1e" stroke-width="1.1" stroke-dasharray="2.3,2.3"/><polyline points="306.00,303.63 307.60,305.15 309.19,306.67 310.79,308.16 312.39,309.63 313.98,311.07 315.58,312.48 317.18,313.86 318.77,315.21 320.37,316.52 321.97,317.79 323.56,319.02 325.16,320.21 326.76,321.37 328.35,322.50 329.95,323.59 331.55,324.65 333.14,325.68 334.74,326.69 336.34,327.66 337.93,328.61 339.53,329.51 341.13,330.38 342.72,331.22 344.32,332.03 345.92,332.80 347.51,333.54 349.11,334.25 350.71,334.92 352.30,335.56 353.90,336.16 355.49,336.74 357.09,337.28 358.69,337.79 360.28,338.27 361.88,338.72 363.48,339.14 365.07,339.53 366.67,339.89 368.27,340.23 369.86,340.53 371.46,340.82 373.06,341.06 374.65,341.27 376.25,341.46 377.85,341.62 379.44,341.77 381.04,341.89 382.64,342.00 384.23,342.09 385.83,342.16 387.43,342.21 389.02,342.25 390.62,342.28 392.22,342.30 393.81,342.31 395.41,342.31 397.01,342.30 398.60,342.28 400.20,342.27" fill="none" stroke="#f01e1e" stroke-width="1.1" stroke-dasharray="2.3,2.3"/><polyline points="306.00,301.83 307.60,303.35 309.19,304.85 310.79,306.32 312.39,307.76 313.98,309.18 315.58,310.56 317.18,311.92 318.77,313.24 320.37,314.53 321.97,315.79 323.56,317.02 325.16,318.21 326.76,319.37 328.35,320.50 329.95,321.59 331.55,322.65 333.14,323.68 334.74,324.67 336.34,325.63 337.93,326.55 339.53,327.44 341.13,328.29 342.72,329.11 344.32,329.90 345.92,330.65 347.51,331.37 349.11,332.05 350.71,332.70 352.30,333.32 353.90,333.90 355.49,334.46 357.09,334.98 358.69,335.47 360.28,335.92 361.88,336.35 363.48,336.75 365.07,337.12 366.67,337.46 368.27,337.77 369.86,338.06 371.46,338.32 373.06,338.56 374.65,338.77 376.25,338.96 377.85,339.12 379.44,339.27 381.04,339.39 382.64,339.50 384.23,339.59 385.83,339.66 387.43,339.71 389.02,339.75 390.62,339.78 392.22,339.80 393.81,339.81 395.41,339.81 397.01,339.80 398.60,339.78 400.20,339.77" fill="none" stroke="#1c1c1c" stroke-width="0.95"/><polygon points="310.1,290.3 311.9,293.4 308.4,293.4" fill="none" stroke="#000" stroke-width="0.75"/><circle cx="314.4" cy="291.2" r="1.6" fill="#000"/><polygon points="317.5,293.2 319.4,296.7 315.6,296.7" fill="#000"/><circle cx="308.2" cy="304.4" r="1.45" fill="none" stroke="#000" stroke-width="0.8"/><circle cx="325.9" cy="310.6" r="1.45" fill="none" stroke="#000" stroke-width="0.8"/><circle cx="315.9" cy="319.5" r="1.6" fill="#000"/><circle cx="315.9" cy="321.0" r="1.45" fill="none" stroke="#000" stroke-width="0.8"/><polygon points="324.1,323.7 325.9,326.8 322.4,326.8" fill="none" stroke="#000" stroke-width="0.75"/><circle cx="325.6" cy="325.8" r="1.45" fill="none" stroke="#000" stroke-width="0.8"/><circle cx="330.6" cy="323.3" r="1.6" fill="#000"/><circle cx="333.7" cy="325.6" r="1.45" fill="none" stroke="#000" stroke-width="0.8"/><polygon points="334.6,327.0 336.4,330.1 332.9,330.1" fill="none" stroke="#000" stroke-width="0.75"/><circle cx="337.4" cy="327.0" r="1.6" fill="#000"/><circle cx="349.9" cy="333.0" r="1.45" fill="none" stroke="#000" stroke-width="0.8"/><polygon points="355.4,318.6 357.1,321.7 353.6,321.7" fill="none" stroke="#000" stroke-width="0.75"/><circle cx="353.2" cy="324.2" r="1.6" fill="#000"/><circle cx="353.2" cy="330.9" r="1.45" fill="none" stroke="#000" stroke-width="0.8"/><circle cx="350.2" cy="332.4" r="1.6" fill="#000"/><circle cx="356.9" cy="329.4" r="1.6" fill="#000"/><circle cx="358.7" cy="330.9" r="1.6" fill="#000"/><polygon points="362.1,325.1 364.0,328.6 360.2,328.6" fill="#000"/><circle cx="360.7" cy="327.9" r="1.6" fill="#000"/><circle cx="359.9" cy="330.2" r="1.45" fill="none" stroke="#000" stroke-width="0.8"/><circle cx="364.4" cy="330.2" r="1.6" fill="#000"/><polygon points="364.6,326.6 366.5,330.1 362.7,330.1" fill="#000"/><circle cx="360.7" cy="335.1" r="1.6" fill="#000"/><polygon points="359.6,334.8 361.5,338.2 357.7,338.2" fill="#000"/><circle cx="361.4" cy="337.6" r="1.6" fill="#000"/><polygon points="362.9,339.2 364.6,342.3 361.1,342.3" fill="none" stroke="#000" stroke-width="0.75"/><polygon points="342.3,340.5 344.2,344.0 340.4,344.0" fill="#000"/><circle cx="370.4" cy="336.6" r="1.45" fill="none" stroke="#000" stroke-width="0.8"/><polygon points="376.6,329.8 378.4,332.9 374.9,332.9" fill="none" stroke="#000" stroke-width="0.75"/><circle cx="377.8" cy="332.7" r="1.45" fill="none" stroke="#000" stroke-width="0.8"/><circle cx="377.0" cy="334.7" r="1.6" fill="#000"/><polygon points="382.3,332.0 384.1,335.1 380.6,335.1" fill="none" stroke="#000" stroke-width="0.75"/><polygon points="382.3,333.3 384.2,336.8 380.4,336.8" fill="#000"/><circle cx="386.8" cy="336.1" r="1.6" fill="#000"/><polygon points="396.5,334.5 398.4,338.0 394.6,338.0" fill="#000"/><circle cx="376.0" cy="342.1" r="1.6" fill="#000"/><polygon points="381.5,342.0 383.4,345.5 379.6,345.5" fill="#000"/><circle cx="399.9" cy="342.1" r="1.6" fill="#000"/><circle cx="374.5" cy="348.5" r="1.45" fill="none" stroke="#000" stroke-width="0.8"/><circle cx="364.1" cy="361.5" r="1.6" fill="#000"/><polygon points="385.3,357.9 387.2,361.4 383.4,361.4" fill="#000"/><polygon points="369.6,366.1 371.5,369.6 367.7,369.6" fill="#000"/><polygon points="359.6,369.4 361.5,372.9 357.7,372.9" fill="#000"/><circle cx="353.0" cy="330.2" r="1.45" fill="none" stroke="#000" stroke-width="0.8"/><circle cx="361.5" cy="329.8" r="1.6" fill="#000"/><circle cx="363.5" cy="333.0" r="1.6" fill="#000"/><polygon points="357.5,329.9 359.4,333.4 355.6,333.4" fill="#000"/><circle cx="354.8" cy="333.6" r="1.6" fill="#000"/><line x1="302.5" y1="372.7" x2="302.5" y2="301.5" stroke="#3a3a3a" stroke-width="0.9"/><line x1="298.7" y1="372.70" x2="302.5" y2="372.70" stroke="#3a3a3a" stroke-width="0.9"/><text x="293.50" y="372.70" transform="rotate(-90 293.50 372.70)" text-anchor="middle" font-size="5.8" fill="#111" stroke="#111" stroke-width="0.35">−3</text><line x1="298.7" y1="354.90" x2="302.5" y2="354.90" stroke="#3a3a3a" stroke-width="0.9"/><text x="293.50" y="354.90" transform="rotate(-90 293.50 354.90)" text-anchor="middle" font-size="5.8" fill="#111" stroke="#111" stroke-width="0.35">−1</text><line x1="298.7" y1="337.10" x2="302.5" y2="337.10" stroke="#3a3a3a" stroke-width="0.9"/><text x="293.50" y="337.10" transform="rotate(-90 293.50 337.10)" text-anchor="middle" font-size="5.8" fill="#111" stroke="#111" stroke-width="0.35">1</text><line x1="298.7" y1="319.30" x2="302.5" y2="319.30" stroke="#3a3a3a" stroke-width="0.9"/><text x="293.50" y="319.30" transform="rotate(-90 293.50 319.30)" text-anchor="middle" font-size="5.8" fill="#111" stroke="#111" stroke-width="0.35">3</text><line x1="298.7" y1="301.50" x2="302.5" y2="301.50" stroke="#3a3a3a" stroke-width="0.9"/><text x="293.50" y="301.50" transform="rotate(-90 293.50 301.50)" text-anchor="middle" font-size="5.8" fill="#111" stroke="#111" stroke-width="0.35">5</text><line x1="306.11" y1="377.6" x2="398.09000000000003" y2="377.6" stroke="#3a3a3a" stroke-width="0.9"/><line x1="306.11" y1="377.6" x2="306.11" y2="381.40000000000003" stroke="#3a3a3a" stroke-width="0.9"/><text x="306.11" y="390.40" text-anchor="middle" font-size="6.1" fill="#111" stroke="#111" stroke-width="0.4">−3</text><line x1="321.44" y1="377.6" x2="321.44" y2="381.40000000000003" stroke="#3a3a3a" stroke-width="0.9"/><text x="321.44" y="390.40" text-anchor="middle" font-size="6.1" fill="#111" stroke="#111" stroke-width="0.4">−2</text><line x1="336.77" y1="377.6" x2="336.77" y2="381.40000000000003" stroke="#3a3a3a" stroke-width="0.9"/><text x="336.77" y="390.40" text-anchor="middle" font-size="6.1" fill="#111" stroke="#111" stroke-width="0.4">−1</text><line x1="352.10" y1="377.6" x2="352.10" y2="381.40000000000003" stroke="#3a3a3a" stroke-width="0.9"/><text x="352.10" y="390.40" text-anchor="middle" font-size="6.1" fill="#111" stroke="#111" stroke-width="0.4">0</text><line x1="367.43" y1="377.6" x2="367.43" y2="381.40000000000003" stroke="#3a3a3a" stroke-width="0.9"/><text x="367.43" y="390.40" text-anchor="middle" font-size="6.1" fill="#111" stroke="#111" stroke-width="0.4">1</text><line x1="382.76" y1="377.6" x2="382.76" y2="381.40000000000003" stroke="#3a3a3a" stroke-width="0.9"/><text x="382.76" y="390.40" text-anchor="middle" font-size="6.1" fill="#111" stroke="#111" stroke-width="0.4">2</text><line x1="398.09" y1="377.6" x2="398.09" y2="381.40000000000003" stroke="#3a3a3a" stroke-width="0.9"/><text x="398.09" y="390.40" text-anchor="middle" font-size="6.1" fill="#111" stroke="#111" stroke-width="0.4">3</text><text x="299.50" y="276.40" font-size="8" font-weight="bold" fill="#000">i)</text><text x="0" y="0" transform="translate(353.60 399.6) scale(1 1.13)" text-anchor="middle" font-size="8" font-weight="bold" fill="#000" stroke="#000" stroke-width="0.2">Air evaporative demand</text><text x="0" y="0" transform="translate(9.4 57.6) rotate(-90)" text-anchor="middle" font-size="8.1" font-weight="bold" fill="#000"><tspan>E (m mol H</tspan><tspan dy="1.90" font-size="5.4">2</tspan><tspan dy="-1.90">O plant</tspan><tspan dy="-4.20" font-size="5.0">−1</tspan><tspan dy="4.20"> s</tspan><tspan dy="-4.20" font-size="5.0">−1</tspan><tspan dy="4.20"> )</tspan></text><text x="0" y="0" transform="translate(9.4 192.6) rotate(-90)" text-anchor="middle" font-size="8.1" font-weight="bold" fill="#000"><tspan>g</tspan><tspan dy="1.90" font-size="5.4">s</tspan><tspan dy="-1.90"> (m mol H</tspan><tspan dy="1.90" font-size="5.4">2</tspan><tspan dy="-1.90">O plant</tspan><tspan dy="-4.20" font-size="5.0">−1</tspan><tspan dy="4.20"> s</tspan><tspan dy="-4.20" font-size="5.0">−1</tspan><tspan dy="4.20"> )</tspan></text><text x="0" y="0" transform="translate(9.4 327.4) rotate(-90)" text-anchor="middle" font-size="8.1" font-weight="bold" fill="#000"><tspan>log WUE (g CO</tspan><tspan dy="1.90" font-size="5.4">2</tspan><tspan dy="-1.90"> kg H</tspan><tspan dy="1.90" font-size="5.4">2</tspan><tspan dy="-1.90">O</tspan><tspan dy="-4.20" font-size="5.0">−1</tspan><tspan dy="4.20"> )</tspan></text></svg>
</body></html>
